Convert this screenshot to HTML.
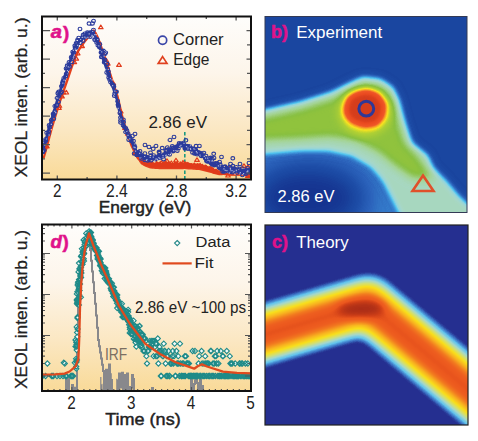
<!DOCTYPE html><html><head><meta charset="utf-8"><style>html,body{margin:0;padding:0;background:#fff;}svg{display:block}</style></head><body>
<svg width="478" height="441" viewBox="0 0 478 441">
<defs>
<linearGradient id="ga" x1="0" y1="0" x2="0" y2="1"><stop offset="0" stop-color="#fefdfb"/><stop offset="0.35" stop-color="#fdf5ea"/><stop offset="0.7" stop-color="#fbe7c2"/><stop offset="1" stop-color="#f9da98"/></linearGradient>
<linearGradient id="gd" x1="0" y1="0" x2="0" y2="1"><stop offset="0" stop-color="#fefdfb"/><stop offset="0.35" stop-color="#fdf5ea"/><stop offset="0.7" stop-color="#fbe7c2"/><stop offset="1" stop-color="#f9da98"/></linearGradient>
<filter id="fb" filterUnits="userSpaceOnUse" x="200" y="0" width="320" height="441" color-interpolation-filters="sRGB"><feComponentTransfer><feFuncR type="table" tableValues="0.086 0.090 0.095 0.099 0.103 0.109 0.115 0.125 0.135 0.146 0.157 0.168 0.178 0.188 0.198 0.208 0.218 0.228 0.238 0.248 0.258 0.268 0.279 0.289 0.299 0.310 0.333 0.366 0.399 0.432 0.465 0.498 0.531 0.564 0.575 0.586 0.596 0.607 0.617 0.628 0.639 0.649 0.659 0.657 0.655 0.653 0.652 0.650 0.648 0.646 0.645 0.641 0.628 0.616 0.604 0.591 0.579 0.567 0.554 0.542 0.538 0.551 0.565 0.579 0.592 0.606 0.620 0.634 0.647 0.661 0.675 0.689 0.715 0.742 0.770 0.798 0.826 0.854 0.881 0.909 0.937 0.965 0.973 0.973 0.973 0.973 0.973 0.973 0.973 0.973 0.973 0.970 0.966 0.963 0.959 0.956 0.952 0.948 0.945 0.941 0.940 0.938 0.937 0.935 0.934 0.932 0.930 0.929 0.927 0.926 0.924 0.923 0.921 0.920 0.918 0.909 0.896 0.883 0.870 0.857 0.844 0.831 0.818 0.805 0.792 0.779 0.766 0.753"/><feFuncG type="table" tableValues="0.204 0.222 0.241 0.260 0.277 0.289 0.302 0.317 0.334 0.351 0.368 0.385 0.408 0.435 0.462 0.489 0.516 0.544 0.571 0.597 0.624 0.651 0.678 0.704 0.731 0.758 0.774 0.782 0.790 0.798 0.807 0.815 0.823 0.831 0.833 0.835 0.837 0.838 0.840 0.842 0.844 0.845 0.847 0.845 0.843 0.842 0.840 0.838 0.836 0.835 0.833 0.830 0.821 0.812 0.803 0.794 0.785 0.777 0.768 0.759 0.755 0.760 0.766 0.771 0.777 0.782 0.788 0.793 0.799 0.804 0.810 0.815 0.822 0.830 0.838 0.846 0.853 0.861 0.869 0.877 0.884 0.892 0.873 0.843 0.813 0.783 0.753 0.723 0.693 0.663 0.633 0.601 0.569 0.538 0.506 0.474 0.442 0.411 0.379 0.347 0.342 0.338 0.335 0.331 0.327 0.324 0.320 0.316 0.313 0.309 0.306 0.302 0.298 0.295 0.291 0.285 0.277 0.269 0.260 0.252 0.244 0.236 0.228 0.220 0.212 0.204 0.196 0.188"/><feFuncB type="table" tableValues="0.565 0.581 0.598 0.614 0.630 0.642 0.655 0.669 0.684 0.700 0.715 0.731 0.747 0.764 0.782 0.799 0.816 0.834 0.850 0.862 0.874 0.887 0.899 0.912 0.924 0.936 0.936 0.928 0.920 0.912 0.903 0.895 0.887 0.879 0.868 0.857 0.847 0.836 0.826 0.815 0.805 0.794 0.782 0.759 0.736 0.713 0.690 0.668 0.645 0.622 0.599 0.573 0.536 0.499 0.462 0.425 0.388 0.351 0.314 0.277 0.250 0.246 0.241 0.237 0.233 0.229 0.225 0.221 0.217 0.213 0.209 0.204 0.197 0.189 0.182 0.174 0.166 0.159 0.151 0.143 0.135 0.128 0.128 0.132 0.135 0.139 0.142 0.146 0.149 0.153 0.156 0.157 0.157 0.157 0.157 0.157 0.157 0.157 0.157 0.157 0.155 0.153 0.151 0.149 0.147 0.145 0.143 0.141 0.138 0.136 0.134 0.132 0.130 0.128 0.126 0.124 0.121 0.119 0.116 0.114 0.111 0.109 0.106 0.104 0.102 0.099 0.097 0.094"/></feComponentTransfer></filter>
<filter id="fc" filterUnits="userSpaceOnUse" x="200" y="0" width="320" height="441" color-interpolation-filters="sRGB"><feComponentTransfer><feFuncR type="table" tableValues="0.149 0.149 0.149 0.161 0.188 0.215 0.243 0.272 0.300 0.329 0.358 0.387 0.418 0.449 0.481 0.512 0.544 0.575 0.606 0.638 0.657 0.673 0.689 0.705 0.722 0.738 0.754 0.771 0.787 0.803 0.819 0.834 0.844 0.854 0.864 0.874 0.884 0.894 0.903 0.913 0.923 0.933 0.943 0.953 0.963 0.973 0.973 0.973 0.973 0.973 0.973 0.973 0.973 0.973 0.973 0.973 0.973 0.973 0.973 0.973 0.973 0.973 0.973 0.973 0.973 0.973 0.972 0.971 0.969 0.968 0.967 0.966 0.964 0.963 0.962 0.960 0.959 0.958 0.957 0.955 0.954 0.953 0.952 0.950 0.949 0.948 0.947 0.945 0.944 0.943 0.942 0.941 0.939 0.938 0.937 0.936 0.935 0.933 0.932 0.931 0.931 0.930 0.929 0.928 0.927 0.926 0.918 0.906 0.894 0.881 0.869 0.856 0.844 0.832 0.819 0.805 0.790 0.776 0.761 0.746 0.731 0.716 0.702 0.687 0.672 0.657 0.642 0.627"/><feFuncG type="table" tableValues="0.188 0.188 0.188 0.228 0.314 0.400 0.472 0.532 0.592 0.653 0.713 0.769 0.779 0.788 0.798 0.807 0.817 0.826 0.836 0.845 0.849 0.852 0.855 0.857 0.860 0.863 0.866 0.868 0.871 0.874 0.876 0.878 0.878 0.878 0.878 0.878 0.878 0.878 0.878 0.878 0.878 0.878 0.878 0.878 0.878 0.878 0.869 0.860 0.851 0.841 0.832 0.823 0.814 0.805 0.796 0.787 0.777 0.768 0.759 0.750 0.741 0.732 0.723 0.713 0.704 0.695 0.685 0.673 0.662 0.650 0.639 0.627 0.616 0.604 0.593 0.581 0.570 0.558 0.547 0.535 0.524 0.512 0.501 0.489 0.478 0.470 0.462 0.455 0.447 0.439 0.431 0.423 0.416 0.408 0.400 0.392 0.384 0.377 0.373 0.369 0.365 0.362 0.358 0.354 0.350 0.347 0.339 0.328 0.318 0.307 0.297 0.286 0.275 0.265 0.254 0.246 0.238 0.231 0.224 0.216 0.209 0.201 0.194 0.187 0.179 0.172 0.164 0.157"/><feFuncB type="table" tableValues="0.565 0.565 0.565 0.597 0.667 0.736 0.785 0.815 0.845 0.875 0.906 0.932 0.916 0.900 0.884 0.867 0.851 0.835 0.819 0.803 0.774 0.743 0.712 0.681 0.649 0.618 0.587 0.556 0.525 0.493 0.462 0.433 0.410 0.387 0.364 0.340 0.317 0.294 0.271 0.248 0.225 0.201 0.178 0.155 0.132 0.110 0.111 0.111 0.112 0.113 0.114 0.114 0.115 0.116 0.117 0.117 0.118 0.119 0.120 0.121 0.121 0.122 0.123 0.124 0.124 0.125 0.125 0.125 0.125 0.125 0.125 0.125 0.125 0.125 0.125 0.125 0.125 0.125 0.125 0.125 0.125 0.125 0.125 0.125 0.125 0.125 0.125 0.125 0.125 0.125 0.125 0.125 0.125 0.125 0.125 0.125 0.125 0.125 0.125 0.124 0.123 0.122 0.121 0.120 0.119 0.118 0.116 0.113 0.111 0.108 0.105 0.103 0.100 0.098 0.095 0.094 0.094 0.094 0.094 0.094 0.094 0.094 0.094 0.094 0.094 0.094 0.094 0.094"/></feComponentTransfer></filter>
<filter id="bl2" x="-50%" y="-50%" width="200%" height="200%" color-interpolation-filters="sRGB"><feGaussianBlur stdDeviation="2.4"/></filter>
<filter id="bl3" x="-50%" y="-50%" width="200%" height="200%" color-interpolation-filters="sRGB"><feGaussianBlur stdDeviation="3"/></filter>
<filter id="bl5" x="-50%" y="-50%" width="200%" height="200%" color-interpolation-filters="sRGB"><feGaussianBlur stdDeviation="5"/></filter>
<filter id="bl8" x="-50%" y="-50%" width="200%" height="200%" color-interpolation-filters="sRGB"><feGaussianBlur stdDeviation="8"/></filter>
<filter id="bl10" x="-50%" y="-50%" width="200%" height="200%" color-interpolation-filters="sRGB"><feGaussianBlur stdDeviation="10"/></filter>
<filter id="bl7" x="-50%" y="-50%" width="200%" height="200%" color-interpolation-filters="sRGB"><feGaussianBlur stdDeviation="8.5"/></filter>
<filter id="bl12" x="-50%" y="-50%" width="200%" height="200%" color-interpolation-filters="sRGB"><feGaussianBlur stdDeviation="14"/></filter>
<clipPath id="cb"><rect x="265" y="16.5" width="202" height="196"/></clipPath>
<clipPath id="cc"><rect x="265" y="225" width="203" height="200"/></clipPath>
<clipPath id="ca"><rect x="42" y="16.5" width="209" height="163"/></clipPath>
<clipPath id="cd"><rect x="42" y="224.5" width="209" height="166.5"/></clipPath>
</defs>
<rect x="42" y="16.5" width="209" height="163.0" fill="url(#ga)"/>
<g clip-path="url(#ca)">
<line x1="184.8" y1="132" x2="184.8" y2="179" stroke="#1a9a80" stroke-width="1.6" stroke-dasharray="3.5 2"/>
<path d="M43.5 158.2 L45.5 151.4 L47.5 143.9 L49.5 136.4 L51.5 128.9 L53.5 122.1 L55.5 115.6 L57.5 109.1 L59.5 102.6 L61.5 96.8 L63.5 91.1 L65.5 85.4 L67.5 79.5 L69.5 73.5 L71.5 67.5 L73.5 62.2 L75.5 57.2 L77.5 52.2 L79.5 48.9 L81.5 46 L83.5 43.1 L85.5 40.4 L87.5 37.9 L89.5 35.5 L91.5 33.1 L93.5 30.6 L95.5 33 L97.5 37 L99.5 42.2 L101.5 47.8 L103.5 53.5 L105.5 59.5 L107.5 65.5 L109.5 71.8 L111.5 78.2 L113.5 84.5 L115.5 90.5 L117.5 96.5 L119.5 104.8 L121.5 113.8 L123.5 121 L125.5 127.7 L127.5 133.7 L129.5 139.6 L131.5 145.4 L133.5 149.6 L135.5 153.8 L137.5 157.5 L139.5 159.5 L141.5 161.4 L143.5 162.9 L145.5 163.7 L147.5 164.5 L149.5 165.3 L151.5 165.6 L153.5 165.7 L155.5 165.9 L157.5 166 L159.5 166.2 L161.5 166.2 L163.5 166.2 L165.5 166.2 L167.5 166.1 L169.5 166.1 L171.5 166.1 L173.5 166.1 L175.5 166.1 L177.5 166.1 L179.5 166 L181.5 166 L183.5 166 L185.5 166 L187.5 166.2 L189.5 166.3 L191.5 166.4 L193.5 166.6 L195.5 166.7 L197.5 166.8 L199.5 167 L201.5 167.4 L203.5 168.1 L205.5 168.7 L207.5 169.2 L209.5 169.8 L211.5 170.6 L213.5 171.4 L215.5 172.1 L217.5 172.9 L219.5 173.5 L221.5 173.7 L223.5 173.9 L225.5 174.1 L227.5 174.3 L229.5 174.5 L231.5 174.5 L233.5 174.5 L235.5 174.5 L237.5 174.5 L239.5 174.5 L241.5 174.5 L243.5 174.5 L245.5 174.5 L247.5 174.5 L249.5 174.5 L251.5 174.5" fill="none" stroke="#e4401c" stroke-width="2.4" stroke-linejoin="round"/>
<path d="M132 145.5 L133 147.4 L134 149.4 L135 151.3 L136 153.3 L137 155.2 L138 156.1 L139 156.9 L140 157.7 L141 158.5 L142 159.4 L143 160 L144 160.2 L145 160.5 L146 160.9 L147 161.3 L148 161.7 L149 162.1 L150 162.5 L151 162.5 L152 162.6 L153 162.7 L154 162.7 L155 162.8 L156 162.9 L157 162.9 L158 163 L159 163.1 L160 163.1 L161 163.1 L162 163.1 L163 163.1 L164 163.1 L165 163.1 L166 163.1 L167 163.1 L168 163.1 L169 163 L170 163 L171 163 L172 163 L173 163 L174 163 L175 163 L176 163 L177 162.9 L178 162.9 L179 162.9 L180 162.9 L181 162.9 L182 162.9 L183 162.9 L184 162.9 L185 162.9 L186 162.9 L187 163 L188 163 L189 163.1 L190 163.2 L191 163.2 L192 163.3 L193 163.4 L194 163.4 L195 163.5 L196 163.5 L197 163.6 L198 163.7 L199 163.7 L200 163.8 L201 164.2 L202 164.5 L203 164.9 L204 165.2 L205 165.6 L206 165.9 L207 166.3 L208 166.6 L209 167 L210 167.3 L211 167.8 L212 168.2 L213 168.7 L214 169.1 L215 169.5 L216 170.1 L217 170.6 L218 171.1 L219 171.7 L220 171.9 L221 172.1 L222 172.4 L223 172.6 L224 172.8 L225 173 L226 173.1 L227 173.2 L228 173.3 L229 173.4 L230 173.5 L231 173.5 L232 173.6 L233 173.6 L234 173.6 L235 173.6 L236 173.6 L237 173.6 L238 173.6 L239 173.6 L240 173.6 L241 173.6 L242 173.6 L243 173.6 L244 173.6 L245 173.6 L246 173.7 L247 173.7 L248 173.7 L249 173.7 L250 173.7 L251 173.7 L252 173.7 L252 175.3 L251 175.3 L250 175.3 L249 175.3 L248 175.3 L247 175.3 L246 175.3 L245 175.4 L244 175.4 L243 175.4 L242 175.4 L241 175.4 L240 175.4 L239 175.4 L238 175.4 L237 175.4 L236 175.4 L235 175.4 L234 175.4 L233 175.4 L232 175.4 L231 175.5 L230 175.5 L229 175.4 L228 175.3 L227 175.2 L226 175.1 L225 175 L224 175.1 L223 175.1 L222 175.2 L221 175.2 L220 175.3 L219 175.3 L218 175.1 L217 174.8 L216 174.6 L215 174.3 L214 174 L213 173.7 L212 173.3 L211 173 L210 172.7 L209 172.4 L208 172.2 L207 171.9 L206 171.7 L205 171.4 L204 171.2 L203 170.9 L202 170.7 L201 170.4 L200 170.2 L199 170.1 L198 170.1 L197 170 L196 169.9 L195 169.8 L194 169.8 L193 169.7 L192 169.6 L191 169.6 L190 169.5 L189 169.4 L188 169.4 L187 169.3 L186 169.2 L185 169.1 L184 169.1 L183 169.2 L182 169.2 L181 169.2 L180 169.2 L179 169.2 L178 169.2 L177 169.2 L176 169.2 L175 169.2 L174 169.2 L173 169.2 L172 169.2 L171 169.2 L170 169.2 L169 169.2 L168 169.2 L167 169.2 L166 169.2 L165 169.2 L164 169.2 L163 169.2 L162 169.2 L161 169.3 L160 169.3 L159 169.2 L158 169.1 L157 169 L156 169 L155 168.9 L154 168.8 L153 168.7 L152 168.7 L151 168.6 L150 168.5 L149 168.1 L148 167.7 L147 167.3 L146 166.9 L145 166.5 L144 165.9 L143 165.4 L142 164.4 L141 163.3 L140 162.2 L139 161 L138 159.9 L137 158.8 L136 156.5 L135 154.3 L134 152 L133 149.7 L132 147.5 Z" fill="#e4401c"/>
<path d="M46.9 144.2l-2.3 3.6h4.6zM58.9 105.8l-2.3 3.6h4.6zM59.4 103.6l-2.3 3.6h4.6zM62 94.3l-2.3 3.6h4.6zM63.8 90.5l-2.3 3.6h4.6zM74.3 60l-2.3 3.6h4.6zM76.3 56.5l-2.3 3.6h4.6zM77.7 51.2l-2.3 3.6h4.6zM82.1 44l-2.3 3.6h4.6zM99.3 40.8l-2.3 3.6h4.6zM106.3 58.4l-2.3 3.6h4.6zM107.8 61.5l-2.3 3.6h4.6zM113.3 81.3l-2.3 3.6h4.6zM120.7 109.3l-2.3 3.6h4.6zM125 125.9l-2.3 3.6h4.6zM127.8 131.5l-2.3 3.6h4.6zM135 151.1l-2.3 3.6h4.6zM142.1 158.2l-2.3 3.6h4.6zM143.3 159.9l-2.3 3.6h4.6zM143.7 160.2l-2.3 3.6h4.6zM144.1 159.2l-2.3 3.6h4.6zM145 160.2l-2.3 3.6h4.6zM147.2 161.7l-2.3 3.6h4.6zM148.4 160l-2.3 3.6h4.6zM148.7 161.9l-2.3 3.6h4.6zM150.3 161.9l-2.3 3.6h4.6zM151.3 162.2l-2.3 3.6h4.6zM151.5 162.1l-2.3 3.6h4.6zM152.3 161.4l-2.3 3.6h4.6zM152.2 162.6l-2.3 3.6h4.6zM153.3 163l-2.3 3.6h4.6zM154.3 163.3l-2.3 3.6h4.6zM156.4 161.7l-2.3 3.6h4.6zM157.1 163.4l-2.3 3.6h4.6zM156.8 161.6l-2.3 3.6h4.6zM157.8 162.7l-2.3 3.6h4.6zM158.8 162.6l-2.3 3.6h4.6zM159.8 163.3l-2.3 3.6h4.6zM160 161.9l-2.3 3.6h4.6zM161.3 160.8l-2.3 3.6h4.6zM162.2 162.9l-2.3 3.6h4.6zM162.2 163l-2.3 3.6h4.6zM163.1 161.7l-2.3 3.6h4.6zM164.2 163.3l-2.3 3.6h4.6zM164.5 161.7l-2.3 3.6h4.6zM165.9 161l-2.3 3.6h4.6zM166 161.6l-2.3 3.6h4.6zM167.8 163.6l-2.3 3.6h4.6zM168.2 163.1l-2.3 3.6h4.6zM169.6 163.7l-2.3 3.6h4.6zM169.7 162.1l-2.3 3.6h4.6zM169.9 162l-2.3 3.6h4.6zM170.4 163.4l-2.3 3.6h4.6zM170.5 163.6l-2.3 3.6h4.6zM171.4 161l-2.3 3.6h4.6zM172.8 163.5l-2.3 3.6h4.6zM173.2 163.6l-2.3 3.6h4.6zM175.2 161.8l-2.3 3.6h4.6zM176.8 161.8l-2.3 3.6h4.6zM177 162.8l-2.3 3.6h4.6zM177.6 163.1l-2.3 3.6h4.6zM177.6 163.6l-2.3 3.6h4.6zM179 163.5l-2.3 3.6h4.6zM180.1 163.1l-2.3 3.6h4.6zM180.3 161.9l-2.3 3.6h4.6zM180.4 163.4l-2.3 3.6h4.6zM180.9 163.5l-2.3 3.6h4.6zM181.9 163.3l-2.3 3.6h4.6zM182.1 163.5l-2.3 3.6h4.6zM182.9 162.8l-2.3 3.6h4.6zM183 160.5l-2.3 3.6h4.6zM184.4 163l-2.3 3.6h4.6zM185.2 161.9l-2.3 3.6h4.6zM186.6 162.7l-2.3 3.6h4.6zM187.2 162.6l-2.3 3.6h4.6zM187.1 162.3l-2.3 3.6h4.6zM188.4 163.5l-2.3 3.6h4.6zM188.2 162.7l-2.3 3.6h4.6zM189.5 163.8l-2.3 3.6h4.6zM189.2 163.3l-2.3 3.6h4.6zM190.4 163.9l-2.3 3.6h4.6zM191.2 163.6l-2.3 3.6h4.6zM194.3 163l-2.3 3.6h4.6zM197 164.2l-2.3 3.6h4.6zM197.1 164.2l-2.3 3.6h4.6zM197.9 163.6l-2.3 3.6h4.6zM200.1 163.2l-2.3 3.6h4.6zM202.1 164.5l-2.3 3.6h4.6zM202.5 164.4l-2.3 3.6h4.6zM202.7 164.7l-2.3 3.6h4.6zM205.2 165l-2.3 3.6h4.6zM206.4 165.5l-2.3 3.6h4.6zM208 166.6l-2.3 3.6h4.6zM209.9 166.2l-2.3 3.6h4.6zM210.8 166.9l-2.3 3.6h4.6zM210.8 167.5l-2.3 3.6h4.6zM211.8 166.9l-2.3 3.6h4.6zM212.2 167.9l-2.3 3.6h4.6zM213.2 168l-2.3 3.6h4.6zM215.5 169.3l-2.3 3.6h4.6zM216.4 169.3l-2.3 3.6h4.6zM217.4 169.9l-2.3 3.6h4.6zM219.3 168.7l-2.3 3.6h4.6zM220.5 169.9l-2.3 3.6h4.6zM222 170.6l-2.3 3.6h4.6zM223.6 170.7l-2.3 3.6h4.6zM228 173.4l-2.3 3.6h4.6zM247.8 173.7l-2.3 3.6h4.6zM248.8 172.5l-2.3 3.6h4.6zM100.8 25.1l-2.3 3.6h4.6zM119 62.8l-2.3 3.6h4.6zM66.3 90.4l-2.3 3.6h4.6zM227 167.8l-2.3 3.6h4.6zM244 163.8l-2.3 3.6h4.6zM176 158.3l-2.3 3.6h4.6zM197 157.8l-2.3 3.6h4.6zM167 158.8l-2.3 3.6h4.6zM230 165.8l-2.3 3.6h4.6zM248 164.8l-2.3 3.6h4.6z" fill="none" stroke="#e03a1a" stroke-width="1.2" stroke-linejoin="round"/>
<path d="M40 158 L42 152.7 L44 146.4 L46 139.3 L48 132.1 L50 125 L52 118.2 L54 111.5 L56 104.8 L58 98 L60 91.6 L62 85.1 L64 78.9 L66 73.3 L68 67.8 L70 61.7 L72 55.2 L74 49.4 L76 46.2 L78 43.1 L80 40 L82 38.6 L84 37.1 L86 35.7 L88 34.3 L90 32.9 L92 31.4 L94 33.9 L96 38 L98 43.4 L100 48.8 L102 54.7 L104 60.8 L106 67 L108 72.8 L110 78.6 L112 84.4 L114 90.2 L116 96 L118 104.8 L120 113.6 L122 120.6 L124 125.8 L126 130.8 L128 134.7 L130 138.6 L132 142.6 L134 146.6 L136 150.5 L138 153.1 L140 154.3 L142 155.5 L144 156.7 L146 157.5 L148 157.5 L150 157.5 L152 157.5 L154 157.5 L156 157.5 L158 157 L160 156.3 L162 155.6 L164 154.9 L166 154.2 L168 153.5 L170 152.2 L172 150.9 L174 149.6 L176 148.3 L178 147.1 L180 146 L182 144.9 L184 144.3 L186 145.6 L188 147 L190 148.3 L192 149.6 L194 150.9 L196 152.1 L198 153.3 L200 154.6 L202 155.8 L204 157.1 L206 158.4 L208 159.7 L210 161 L212 162.2 L214 163.3 L216 164.5 L218 165.5 L220 166.4 L222 167.4 L224 168.3 L226 169 L228 169.4 L230 169.9 L232 170.3 L234 170.7 L236 171.1 L238 171.6 L240 172 L242 171.9 L244 171.8 L246 171.8 L248 171.7 L250 171.6 L252 171.5" fill="none" stroke="#2c3c9c" stroke-width="2.8" stroke-linejoin="round"/>
<path d="M41.1 151a1.9 1.7 0 1 0 3.8 0a1.9 1.7 0 1 0-3.8 0zM41 152a1.9 1.7 0 1 0 3.8 0a1.9 1.7 0 1 0-3.8 0zM42.2 150.2a1.9 1.7 0 1 0 3.8 0a1.9 1.7 0 1 0-3.8 0zM40.5 146.7a1.9 1.7 0 1 0 3.8 0a1.9 1.7 0 1 0-3.8 0zM42.6 142.4a1.9 1.7 0 1 0 3.8 0a1.9 1.7 0 1 0-3.8 0zM43.7 139.3a1.9 1.7 0 1 0 3.8 0a1.9 1.7 0 1 0-3.8 0zM44 140.7a1.9 1.7 0 1 0 3.8 0a1.9 1.7 0 1 0-3.8 0zM46.4 134a1.9 1.7 0 1 0 3.8 0a1.9 1.7 0 1 0-3.8 0zM44.8 132.8a1.9 1.7 0 1 0 3.8 0a1.9 1.7 0 1 0-3.8 0zM46.7 131.5a1.9 1.7 0 1 0 3.8 0a1.9 1.7 0 1 0-3.8 0zM47.7 127.3a1.9 1.7 0 1 0 3.8 0a1.9 1.7 0 1 0-3.8 0zM47.2 125.2a1.9 1.7 0 1 0 3.8 0a1.9 1.7 0 1 0-3.8 0zM49 124a1.9 1.7 0 1 0 3.8 0a1.9 1.7 0 1 0-3.8 0zM49.4 120.1a1.9 1.7 0 1 0 3.8 0a1.9 1.7 0 1 0-3.8 0zM51.9 118.8a1.9 1.7 0 1 0 3.8 0a1.9 1.7 0 1 0-3.8 0zM51.6 115.3a1.9 1.7 0 1 0 3.8 0a1.9 1.7 0 1 0-3.8 0zM51.2 114.1a1.9 1.7 0 1 0 3.8 0a1.9 1.7 0 1 0-3.8 0zM52.6 113.1a1.9 1.7 0 1 0 3.8 0a1.9 1.7 0 1 0-3.8 0zM52.9 111.8a1.9 1.7 0 1 0 3.8 0a1.9 1.7 0 1 0-3.8 0zM53 106a1.9 1.7 0 1 0 3.8 0a1.9 1.7 0 1 0-3.8 0zM54.5 105.7a1.9 1.7 0 1 0 3.8 0a1.9 1.7 0 1 0-3.8 0zM55.1 104.9a1.9 1.7 0 1 0 3.8 0a1.9 1.7 0 1 0-3.8 0zM56.6 101.9a1.9 1.7 0 1 0 3.8 0a1.9 1.7 0 1 0-3.8 0zM55.2 98a1.9 1.7 0 1 0 3.8 0a1.9 1.7 0 1 0-3.8 0zM55.9 93.3a1.9 1.7 0 1 0 3.8 0a1.9 1.7 0 1 0-3.8 0zM57 96a1.9 1.7 0 1 0 3.8 0a1.9 1.7 0 1 0-3.8 0zM58.7 93.1a1.9 1.7 0 1 0 3.8 0a1.9 1.7 0 1 0-3.8 0zM59.7 91.8a1.9 1.7 0 1 0 3.8 0a1.9 1.7 0 1 0-3.8 0zM59.6 86.2a1.9 1.7 0 1 0 3.8 0a1.9 1.7 0 1 0-3.8 0zM60.5 84.3a1.9 1.7 0 1 0 3.8 0a1.9 1.7 0 1 0-3.8 0zM61.1 81a1.9 1.7 0 1 0 3.8 0a1.9 1.7 0 1 0-3.8 0zM60.6 82.6a1.9 1.7 0 1 0 3.8 0a1.9 1.7 0 1 0-3.8 0zM61.9 78.2a1.9 1.7 0 1 0 3.8 0a1.9 1.7 0 1 0-3.8 0zM63.8 76.2a1.9 1.7 0 1 0 3.8 0a1.9 1.7 0 1 0-3.8 0zM64.4 73.8a1.9 1.7 0 1 0 3.8 0a1.9 1.7 0 1 0-3.8 0zM65.4 69.1a1.9 1.7 0 1 0 3.8 0a1.9 1.7 0 1 0-3.8 0zM65.7 68.9a1.9 1.7 0 1 0 3.8 0a1.9 1.7 0 1 0-3.8 0zM64.2 68.4a1.9 1.7 0 1 0 3.8 0a1.9 1.7 0 1 0-3.8 0zM66.9 64.8a1.9 1.7 0 1 0 3.8 0a1.9 1.7 0 1 0-3.8 0zM67.6 66.8a1.9 1.7 0 1 0 3.8 0a1.9 1.7 0 1 0-3.8 0zM67.1 62.2a1.9 1.7 0 1 0 3.8 0a1.9 1.7 0 1 0-3.8 0zM70.1 62a1.9 1.7 0 1 0 3.8 0a1.9 1.7 0 1 0-3.8 0zM69.3 57.2a1.9 1.7 0 1 0 3.8 0a1.9 1.7 0 1 0-3.8 0zM70.8 52a1.9 1.7 0 1 0 3.8 0a1.9 1.7 0 1 0-3.8 0zM71.4 57.5a1.9 1.7 0 1 0 3.8 0a1.9 1.7 0 1 0-3.8 0zM72 52.6a1.9 1.7 0 1 0 3.8 0a1.9 1.7 0 1 0-3.8 0zM73.2 47.3a1.9 1.7 0 1 0 3.8 0a1.9 1.7 0 1 0-3.8 0zM72.9 45.7a1.9 1.7 0 1 0 3.8 0a1.9 1.7 0 1 0-3.8 0zM74.3 47.4a1.9 1.7 0 1 0 3.8 0a1.9 1.7 0 1 0-3.8 0zM74.7 46.5a1.9 1.7 0 1 0 3.8 0a1.9 1.7 0 1 0-3.8 0zM74.2 43.3a1.9 1.7 0 1 0 3.8 0a1.9 1.7 0 1 0-3.8 0zM75.3 43.7a1.9 1.7 0 1 0 3.8 0a1.9 1.7 0 1 0-3.8 0zM75.6 40.1a1.9 1.7 0 1 0 3.8 0a1.9 1.7 0 1 0-3.8 0zM75.9 40.5a1.9 1.7 0 1 0 3.8 0a1.9 1.7 0 1 0-3.8 0zM76.8 37.9a1.9 1.7 0 1 0 3.8 0a1.9 1.7 0 1 0-3.8 0zM78.9 40a1.9 1.7 0 1 0 3.8 0a1.9 1.7 0 1 0-3.8 0zM78.3 42.8a1.9 1.7 0 1 0 3.8 0a1.9 1.7 0 1 0-3.8 0zM80.6 37.4a1.9 1.7 0 1 0 3.8 0a1.9 1.7 0 1 0-3.8 0zM80.5 37.8a1.9 1.7 0 1 0 3.8 0a1.9 1.7 0 1 0-3.8 0zM81.2 40.7a1.9 1.7 0 1 0 3.8 0a1.9 1.7 0 1 0-3.8 0zM81.2 35.1a1.9 1.7 0 1 0 3.8 0a1.9 1.7 0 1 0-3.8 0zM83 37.2a1.9 1.7 0 1 0 3.8 0a1.9 1.7 0 1 0-3.8 0zM82.8 33.7a1.9 1.7 0 1 0 3.8 0a1.9 1.7 0 1 0-3.8 0zM84.6 36.6a1.9 1.7 0 1 0 3.8 0a1.9 1.7 0 1 0-3.8 0zM85.3 34a1.9 1.7 0 1 0 3.8 0a1.9 1.7 0 1 0-3.8 0zM84.4 35.7a1.9 1.7 0 1 0 3.8 0a1.9 1.7 0 1 0-3.8 0zM86.6 33.6a1.9 1.7 0 1 0 3.8 0a1.9 1.7 0 1 0-3.8 0zM85.5 32.6a1.9 1.7 0 1 0 3.8 0a1.9 1.7 0 1 0-3.8 0zM88.2 32.6a1.9 1.7 0 1 0 3.8 0a1.9 1.7 0 1 0-3.8 0zM86.9 35.5a1.9 1.7 0 1 0 3.8 0a1.9 1.7 0 1 0-3.8 0zM88.3 36.8a1.9 1.7 0 1 0 3.8 0a1.9 1.7 0 1 0-3.8 0zM90.7 33.4a1.9 1.7 0 1 0 3.8 0a1.9 1.7 0 1 0-3.8 0zM90.6 32.9a1.9 1.7 0 1 0 3.8 0a1.9 1.7 0 1 0-3.8 0zM91.6 29.9a1.9 1.7 0 1 0 3.8 0a1.9 1.7 0 1 0-3.8 0zM90.1 32.2a1.9 1.7 0 1 0 3.8 0a1.9 1.7 0 1 0-3.8 0zM93.1 40a1.9 1.7 0 1 0 3.8 0a1.9 1.7 0 1 0-3.8 0zM92.7 39.6a1.9 1.7 0 1 0 3.8 0a1.9 1.7 0 1 0-3.8 0zM95.1 40.4a1.9 1.7 0 1 0 3.8 0a1.9 1.7 0 1 0-3.8 0zM94.7 42.4a1.9 1.7 0 1 0 3.8 0a1.9 1.7 0 1 0-3.8 0zM95.3 39.4a1.9 1.7 0 1 0 3.8 0a1.9 1.7 0 1 0-3.8 0zM94.9 39.5a1.9 1.7 0 1 0 3.8 0a1.9 1.7 0 1 0-3.8 0zM96.1 45.5a1.9 1.7 0 1 0 3.8 0a1.9 1.7 0 1 0-3.8 0zM97.4 46.9a1.9 1.7 0 1 0 3.8 0a1.9 1.7 0 1 0-3.8 0zM99.1 52.6a1.9 1.7 0 1 0 3.8 0a1.9 1.7 0 1 0-3.8 0zM99.7 50.9a1.9 1.7 0 1 0 3.8 0a1.9 1.7 0 1 0-3.8 0zM99.4 51.8a1.9 1.7 0 1 0 3.8 0a1.9 1.7 0 1 0-3.8 0zM99.4 56.9a1.9 1.7 0 1 0 3.8 0a1.9 1.7 0 1 0-3.8 0zM100.1 57a1.9 1.7 0 1 0 3.8 0a1.9 1.7 0 1 0-3.8 0zM102.8 59.8a1.9 1.7 0 1 0 3.8 0a1.9 1.7 0 1 0-3.8 0zM102.6 60.4a1.9 1.7 0 1 0 3.8 0a1.9 1.7 0 1 0-3.8 0zM102.3 62.3a1.9 1.7 0 1 0 3.8 0a1.9 1.7 0 1 0-3.8 0zM104.8 63.9a1.9 1.7 0 1 0 3.8 0a1.9 1.7 0 1 0-3.8 0zM104.8 72.4a1.9 1.7 0 1 0 3.8 0a1.9 1.7 0 1 0-3.8 0zM105.7 68.9a1.9 1.7 0 1 0 3.8 0a1.9 1.7 0 1 0-3.8 0zM106.5 71.6a1.9 1.7 0 1 0 3.8 0a1.9 1.7 0 1 0-3.8 0zM106.8 74.8a1.9 1.7 0 1 0 3.8 0a1.9 1.7 0 1 0-3.8 0zM106.9 77.4a1.9 1.7 0 1 0 3.8 0a1.9 1.7 0 1 0-3.8 0zM106.8 77.6a1.9 1.7 0 1 0 3.8 0a1.9 1.7 0 1 0-3.8 0zM107.7 79.5a1.9 1.7 0 1 0 3.8 0a1.9 1.7 0 1 0-3.8 0zM108.7 82.1a1.9 1.7 0 1 0 3.8 0a1.9 1.7 0 1 0-3.8 0zM110.4 84.6a1.9 1.7 0 1 0 3.8 0a1.9 1.7 0 1 0-3.8 0zM110.2 83.9a1.9 1.7 0 1 0 3.8 0a1.9 1.7 0 1 0-3.8 0zM112 86.7a1.9 1.7 0 1 0 3.8 0a1.9 1.7 0 1 0-3.8 0zM112.8 93.5a1.9 1.7 0 1 0 3.8 0a1.9 1.7 0 1 0-3.8 0zM113.9 91.9a1.9 1.7 0 1 0 3.8 0a1.9 1.7 0 1 0-3.8 0zM114.6 91.8a1.9 1.7 0 1 0 3.8 0a1.9 1.7 0 1 0-3.8 0zM112.4 95.7a1.9 1.7 0 1 0 3.8 0a1.9 1.7 0 1 0-3.8 0zM116.1 104.7a1.9 1.7 0 1 0 3.8 0a1.9 1.7 0 1 0-3.8 0zM115.8 101.2a1.9 1.7 0 1 0 3.8 0a1.9 1.7 0 1 0-3.8 0zM116.5 105.7a1.9 1.7 0 1 0 3.8 0a1.9 1.7 0 1 0-3.8 0zM116.6 106.5a1.9 1.7 0 1 0 3.8 0a1.9 1.7 0 1 0-3.8 0zM118 113.1a1.9 1.7 0 1 0 3.8 0a1.9 1.7 0 1 0-3.8 0zM118.6 117.5a1.9 1.7 0 1 0 3.8 0a1.9 1.7 0 1 0-3.8 0zM118.7 122.5a1.9 1.7 0 1 0 3.8 0a1.9 1.7 0 1 0-3.8 0zM118.6 120.6a1.9 1.7 0 1 0 3.8 0a1.9 1.7 0 1 0-3.8 0zM121.5 119.7a1.9 1.7 0 1 0 3.8 0a1.9 1.7 0 1 0-3.8 0zM121.7 122a1.9 1.7 0 1 0 3.8 0a1.9 1.7 0 1 0-3.8 0zM121.3 125.5a1.9 1.7 0 1 0 3.8 0a1.9 1.7 0 1 0-3.8 0zM122.3 126.8a1.9 1.7 0 1 0 3.8 0a1.9 1.7 0 1 0-3.8 0zM123.9 128.3a1.9 1.7 0 1 0 3.8 0a1.9 1.7 0 1 0-3.8 0zM123.7 132a1.9 1.7 0 1 0 3.8 0a1.9 1.7 0 1 0-3.8 0zM125 130.5a1.9 1.7 0 1 0 3.8 0a1.9 1.7 0 1 0-3.8 0zM126.2 133.4a1.9 1.7 0 1 0 3.8 0a1.9 1.7 0 1 0-3.8 0zM126.8 139.7a1.9 1.7 0 1 0 3.8 0a1.9 1.7 0 1 0-3.8 0zM126.8 136.2a1.9 1.7 0 1 0 3.8 0a1.9 1.7 0 1 0-3.8 0zM127 136.1a1.9 1.7 0 1 0 3.8 0a1.9 1.7 0 1 0-3.8 0zM128 137.2a1.9 1.7 0 1 0 3.8 0a1.9 1.7 0 1 0-3.8 0zM129.5 139.6a1.9 1.7 0 1 0 3.8 0a1.9 1.7 0 1 0-3.8 0zM129.6 141.1a1.9 1.7 0 1 0 3.8 0a1.9 1.7 0 1 0-3.8 0zM131.6 141a1.9 1.7 0 1 0 3.8 0a1.9 1.7 0 1 0-3.8 0zM132.4 145.5a1.9 1.7 0 1 0 3.8 0a1.9 1.7 0 1 0-3.8 0zM132.8 147.4a1.9 1.7 0 1 0 3.8 0a1.9 1.7 0 1 0-3.8 0zM133 146.9a1.9 1.7 0 1 0 3.8 0a1.9 1.7 0 1 0-3.8 0zM132.3 153.6a1.9 1.7 0 1 0 3.8 0a1.9 1.7 0 1 0-3.8 0zM135.1 152.2a1.9 1.7 0 1 0 3.8 0a1.9 1.7 0 1 0-3.8 0zM135.1 152.3a1.9 1.7 0 1 0 3.8 0a1.9 1.7 0 1 0-3.8 0zM134.8 154.9a1.9 1.7 0 1 0 3.8 0a1.9 1.7 0 1 0-3.8 0zM135.4 153.8a1.9 1.7 0 1 0 3.8 0a1.9 1.7 0 1 0-3.8 0zM136.3 152.2a1.9 1.7 0 1 0 3.8 0a1.9 1.7 0 1 0-3.8 0zM137.5 153.6a1.9 1.7 0 1 0 3.8 0a1.9 1.7 0 1 0-3.8 0zM137.1 155.1a1.9 1.7 0 1 0 3.8 0a1.9 1.7 0 1 0-3.8 0zM139.6 158.4a1.9 1.7 0 1 0 3.8 0a1.9 1.7 0 1 0-3.8 0zM139.2 156.5a1.9 1.7 0 1 0 3.8 0a1.9 1.7 0 1 0-3.8 0zM140.6 155.4a1.9 1.7 0 1 0 3.8 0a1.9 1.7 0 1 0-3.8 0zM139.7 156.7a1.9 1.7 0 1 0 3.8 0a1.9 1.7 0 1 0-3.8 0zM143.7 157.7a1.9 1.7 0 1 0 3.8 0a1.9 1.7 0 1 0-3.8 0zM143 153.4a1.9 1.7 0 1 0 3.8 0a1.9 1.7 0 1 0-3.8 0zM142.9 157.9a1.9 1.7 0 1 0 3.8 0a1.9 1.7 0 1 0-3.8 0zM142.9 160a1.9 1.7 0 1 0 3.8 0a1.9 1.7 0 1 0-3.8 0zM145.5 157.8a1.9 1.7 0 1 0 3.8 0a1.9 1.7 0 1 0-3.8 0zM144.8 157.1a1.9 1.7 0 1 0 3.8 0a1.9 1.7 0 1 0-3.8 0zM145.5 157.7a1.9 1.7 0 1 0 3.8 0a1.9 1.7 0 1 0-3.8 0zM145.8 160.4a1.9 1.7 0 1 0 3.8 0a1.9 1.7 0 1 0-3.8 0zM146.3 159.1a1.9 1.7 0 1 0 3.8 0a1.9 1.7 0 1 0-3.8 0zM147.8 158.7a1.9 1.7 0 1 0 3.8 0a1.9 1.7 0 1 0-3.8 0zM148.6 152.7a1.9 1.7 0 1 0 3.8 0a1.9 1.7 0 1 0-3.8 0zM149 155.5a1.9 1.7 0 1 0 3.8 0a1.9 1.7 0 1 0-3.8 0zM149.2 160.3a1.9 1.7 0 1 0 3.8 0a1.9 1.7 0 1 0-3.8 0zM151.7 155.5a1.9 1.7 0 1 0 3.8 0a1.9 1.7 0 1 0-3.8 0zM152.5 157.7a1.9 1.7 0 1 0 3.8 0a1.9 1.7 0 1 0-3.8 0zM151.5 158.1a1.9 1.7 0 1 0 3.8 0a1.9 1.7 0 1 0-3.8 0zM153.7 157.4a1.9 1.7 0 1 0 3.8 0a1.9 1.7 0 1 0-3.8 0zM153.5 159.2a1.9 1.7 0 1 0 3.8 0a1.9 1.7 0 1 0-3.8 0zM154.1 157.6a1.9 1.7 0 1 0 3.8 0a1.9 1.7 0 1 0-3.8 0zM156.3 156.4a1.9 1.7 0 1 0 3.8 0a1.9 1.7 0 1 0-3.8 0zM154.8 157.2a1.9 1.7 0 1 0 3.8 0a1.9 1.7 0 1 0-3.8 0zM156.8 156.1a1.9 1.7 0 1 0 3.8 0a1.9 1.7 0 1 0-3.8 0zM156.9 157.9a1.9 1.7 0 1 0 3.8 0a1.9 1.7 0 1 0-3.8 0zM157.7 155.2a1.9 1.7 0 1 0 3.8 0a1.9 1.7 0 1 0-3.8 0zM157.5 153.1a1.9 1.7 0 1 0 3.8 0a1.9 1.7 0 1 0-3.8 0zM158.8 157.5a1.9 1.7 0 1 0 3.8 0a1.9 1.7 0 1 0-3.8 0zM160.7 156.4a1.9 1.7 0 1 0 3.8 0a1.9 1.7 0 1 0-3.8 0zM160.5 156.7a1.9 1.7 0 1 0 3.8 0a1.9 1.7 0 1 0-3.8 0zM161.7 159.2a1.9 1.7 0 1 0 3.8 0a1.9 1.7 0 1 0-3.8 0zM162.4 154.3a1.9 1.7 0 1 0 3.8 0a1.9 1.7 0 1 0-3.8 0zM162 155.5a1.9 1.7 0 1 0 3.8 0a1.9 1.7 0 1 0-3.8 0zM163.2 154.6a1.9 1.7 0 1 0 3.8 0a1.9 1.7 0 1 0-3.8 0zM163.9 150.6a1.9 1.7 0 1 0 3.8 0a1.9 1.7 0 1 0-3.8 0zM164.4 153.5a1.9 1.7 0 1 0 3.8 0a1.9 1.7 0 1 0-3.8 0zM165.1 150.7a1.9 1.7 0 1 0 3.8 0a1.9 1.7 0 1 0-3.8 0zM166.2 153.4a1.9 1.7 0 1 0 3.8 0a1.9 1.7 0 1 0-3.8 0zM167.3 150.9a1.9 1.7 0 1 0 3.8 0a1.9 1.7 0 1 0-3.8 0zM167.3 150.3a1.9 1.7 0 1 0 3.8 0a1.9 1.7 0 1 0-3.8 0zM167.7 154.6a1.9 1.7 0 1 0 3.8 0a1.9 1.7 0 1 0-3.8 0zM169.7 150.7a1.9 1.7 0 1 0 3.8 0a1.9 1.7 0 1 0-3.8 0zM169.4 150.5a1.9 1.7 0 1 0 3.8 0a1.9 1.7 0 1 0-3.8 0zM171.1 151.2a1.9 1.7 0 1 0 3.8 0a1.9 1.7 0 1 0-3.8 0zM170.4 146.3a1.9 1.7 0 1 0 3.8 0a1.9 1.7 0 1 0-3.8 0zM170.9 148a1.9 1.7 0 1 0 3.8 0a1.9 1.7 0 1 0-3.8 0zM171.8 147.8a1.9 1.7 0 1 0 3.8 0a1.9 1.7 0 1 0-3.8 0zM172.5 149.5a1.9 1.7 0 1 0 3.8 0a1.9 1.7 0 1 0-3.8 0zM174.1 148.7a1.9 1.7 0 1 0 3.8 0a1.9 1.7 0 1 0-3.8 0zM174.6 146.7a1.9 1.7 0 1 0 3.8 0a1.9 1.7 0 1 0-3.8 0zM175.4 150.7a1.9 1.7 0 1 0 3.8 0a1.9 1.7 0 1 0-3.8 0zM175.9 146.1a1.9 1.7 0 1 0 3.8 0a1.9 1.7 0 1 0-3.8 0zM176.8 145.2a1.9 1.7 0 1 0 3.8 0a1.9 1.7 0 1 0-3.8 0zM176.7 148a1.9 1.7 0 1 0 3.8 0a1.9 1.7 0 1 0-3.8 0zM178.8 145.7a1.9 1.7 0 1 0 3.8 0a1.9 1.7 0 1 0-3.8 0zM178.8 144.7a1.9 1.7 0 1 0 3.8 0a1.9 1.7 0 1 0-3.8 0zM178.8 143.4a1.9 1.7 0 1 0 3.8 0a1.9 1.7 0 1 0-3.8 0zM181.6 143.9a1.9 1.7 0 1 0 3.8 0a1.9 1.7 0 1 0-3.8 0zM180.4 143.7a1.9 1.7 0 1 0 3.8 0a1.9 1.7 0 1 0-3.8 0zM181.4 143a1.9 1.7 0 1 0 3.8 0a1.9 1.7 0 1 0-3.8 0zM182.3 145.6a1.9 1.7 0 1 0 3.8 0a1.9 1.7 0 1 0-3.8 0zM183 148.6a1.9 1.7 0 1 0 3.8 0a1.9 1.7 0 1 0-3.8 0zM183.8 147.9a1.9 1.7 0 1 0 3.8 0a1.9 1.7 0 1 0-3.8 0zM183.3 146.9a1.9 1.7 0 1 0 3.8 0a1.9 1.7 0 1 0-3.8 0zM185 146a1.9 1.7 0 1 0 3.8 0a1.9 1.7 0 1 0-3.8 0zM184.2 146.3a1.9 1.7 0 1 0 3.8 0a1.9 1.7 0 1 0-3.8 0zM186.1 148.7a1.9 1.7 0 1 0 3.8 0a1.9 1.7 0 1 0-3.8 0zM186.9 146.8a1.9 1.7 0 1 0 3.8 0a1.9 1.7 0 1 0-3.8 0zM188.1 147.7a1.9 1.7 0 1 0 3.8 0a1.9 1.7 0 1 0-3.8 0zM187.8 146.2a1.9 1.7 0 1 0 3.8 0a1.9 1.7 0 1 0-3.8 0zM189.3 149.5a1.9 1.7 0 1 0 3.8 0a1.9 1.7 0 1 0-3.8 0zM189.5 148.8a1.9 1.7 0 1 0 3.8 0a1.9 1.7 0 1 0-3.8 0zM190.6 148.4a1.9 1.7 0 1 0 3.8 0a1.9 1.7 0 1 0-3.8 0zM190.6 152.5a1.9 1.7 0 1 0 3.8 0a1.9 1.7 0 1 0-3.8 0zM192.6 153.6a1.9 1.7 0 1 0 3.8 0a1.9 1.7 0 1 0-3.8 0zM193.2 150.4a1.9 1.7 0 1 0 3.8 0a1.9 1.7 0 1 0-3.8 0zM192.2 149a1.9 1.7 0 1 0 3.8 0a1.9 1.7 0 1 0-3.8 0zM193.8 149.8a1.9 1.7 0 1 0 3.8 0a1.9 1.7 0 1 0-3.8 0zM194.4 152a1.9 1.7 0 1 0 3.8 0a1.9 1.7 0 1 0-3.8 0zM194 153.2a1.9 1.7 0 1 0 3.8 0a1.9 1.7 0 1 0-3.8 0zM195.2 154.3a1.9 1.7 0 1 0 3.8 0a1.9 1.7 0 1 0-3.8 0zM196.6 152.7a1.9 1.7 0 1 0 3.8 0a1.9 1.7 0 1 0-3.8 0zM196.6 152.2a1.9 1.7 0 1 0 3.8 0a1.9 1.7 0 1 0-3.8 0zM198.3 153a1.9 1.7 0 1 0 3.8 0a1.9 1.7 0 1 0-3.8 0zM199.4 156.1a1.9 1.7 0 1 0 3.8 0a1.9 1.7 0 1 0-3.8 0zM199.1 153.9a1.9 1.7 0 1 0 3.8 0a1.9 1.7 0 1 0-3.8 0zM200.7 154.4a1.9 1.7 0 1 0 3.8 0a1.9 1.7 0 1 0-3.8 0zM202 153a1.9 1.7 0 1 0 3.8 0a1.9 1.7 0 1 0-3.8 0zM201.3 156.1a1.9 1.7 0 1 0 3.8 0a1.9 1.7 0 1 0-3.8 0zM203.2 157.9a1.9 1.7 0 1 0 3.8 0a1.9 1.7 0 1 0-3.8 0zM203.9 158.3a1.9 1.7 0 1 0 3.8 0a1.9 1.7 0 1 0-3.8 0zM204.8 158.5a1.9 1.7 0 1 0 3.8 0a1.9 1.7 0 1 0-3.8 0zM204.5 160.8a1.9 1.7 0 1 0 3.8 0a1.9 1.7 0 1 0-3.8 0zM205.4 161.6a1.9 1.7 0 1 0 3.8 0a1.9 1.7 0 1 0-3.8 0zM205.4 159.8a1.9 1.7 0 1 0 3.8 0a1.9 1.7 0 1 0-3.8 0zM207.2 159.6a1.9 1.7 0 1 0 3.8 0a1.9 1.7 0 1 0-3.8 0zM207.9 158.3a1.9 1.7 0 1 0 3.8 0a1.9 1.7 0 1 0-3.8 0zM208.3 161.6a1.9 1.7 0 1 0 3.8 0a1.9 1.7 0 1 0-3.8 0zM208.7 157.7a1.9 1.7 0 1 0 3.8 0a1.9 1.7 0 1 0-3.8 0zM209 162.9a1.9 1.7 0 1 0 3.8 0a1.9 1.7 0 1 0-3.8 0zM208.5 162.4a1.9 1.7 0 1 0 3.8 0a1.9 1.7 0 1 0-3.8 0zM210.4 163.8a1.9 1.7 0 1 0 3.8 0a1.9 1.7 0 1 0-3.8 0zM210.3 164.5a1.9 1.7 0 1 0 3.8 0a1.9 1.7 0 1 0-3.8 0zM212.1 164.6a1.9 1.7 0 1 0 3.8 0a1.9 1.7 0 1 0-3.8 0zM212.4 165.2a1.9 1.7 0 1 0 3.8 0a1.9 1.7 0 1 0-3.8 0zM215.3 163.2a1.9 1.7 0 1 0 3.8 0a1.9 1.7 0 1 0-3.8 0zM213.9 163.2a1.9 1.7 0 1 0 3.8 0a1.9 1.7 0 1 0-3.8 0zM214.4 164.5a1.9 1.7 0 1 0 3.8 0a1.9 1.7 0 1 0-3.8 0zM217 167.3a1.9 1.7 0 1 0 3.8 0a1.9 1.7 0 1 0-3.8 0zM215.3 164.4a1.9 1.7 0 1 0 3.8 0a1.9 1.7 0 1 0-3.8 0zM218 168a1.9 1.7 0 1 0 3.8 0a1.9 1.7 0 1 0-3.8 0zM218.7 167.7a1.9 1.7 0 1 0 3.8 0a1.9 1.7 0 1 0-3.8 0zM218.5 165.2a1.9 1.7 0 1 0 3.8 0a1.9 1.7 0 1 0-3.8 0zM218.3 164.6a1.9 1.7 0 1 0 3.8 0a1.9 1.7 0 1 0-3.8 0zM219.5 169a1.9 1.7 0 1 0 3.8 0a1.9 1.7 0 1 0-3.8 0zM220.8 171.5a1.9 1.7 0 1 0 3.8 0a1.9 1.7 0 1 0-3.8 0zM222 166.9a1.9 1.7 0 1 0 3.8 0a1.9 1.7 0 1 0-3.8 0zM222.4 171.4a1.9 1.7 0 1 0 3.8 0a1.9 1.7 0 1 0-3.8 0zM223.1 166.6a1.9 1.7 0 1 0 3.8 0a1.9 1.7 0 1 0-3.8 0zM223.2 171.2a1.9 1.7 0 1 0 3.8 0a1.9 1.7 0 1 0-3.8 0zM224.9 167.7a1.9 1.7 0 1 0 3.8 0a1.9 1.7 0 1 0-3.8 0zM224.1 169.4a1.9 1.7 0 1 0 3.8 0a1.9 1.7 0 1 0-3.8 0zM225.1 168.7a1.9 1.7 0 1 0 3.8 0a1.9 1.7 0 1 0-3.8 0zM226.4 170a1.9 1.7 0 1 0 3.8 0a1.9 1.7 0 1 0-3.8 0zM227.5 171.6a1.9 1.7 0 1 0 3.8 0a1.9 1.7 0 1 0-3.8 0zM228 167.1a1.9 1.7 0 1 0 3.8 0a1.9 1.7 0 1 0-3.8 0zM228.7 171.5a1.9 1.7 0 1 0 3.8 0a1.9 1.7 0 1 0-3.8 0zM228.7 171.8a1.9 1.7 0 1 0 3.8 0a1.9 1.7 0 1 0-3.8 0zM230.5 168.6a1.9 1.7 0 1 0 3.8 0a1.9 1.7 0 1 0-3.8 0zM229 168.6a1.9 1.7 0 1 0 3.8 0a1.9 1.7 0 1 0-3.8 0zM230.7 172.3a1.9 1.7 0 1 0 3.8 0a1.9 1.7 0 1 0-3.8 0zM230.9 170.2a1.9 1.7 0 1 0 3.8 0a1.9 1.7 0 1 0-3.8 0zM231.8 168.6a1.9 1.7 0 1 0 3.8 0a1.9 1.7 0 1 0-3.8 0zM233.6 170.4a1.9 1.7 0 1 0 3.8 0a1.9 1.7 0 1 0-3.8 0zM234.5 167.2a1.9 1.7 0 1 0 3.8 0a1.9 1.7 0 1 0-3.8 0zM234 169.3a1.9 1.7 0 1 0 3.8 0a1.9 1.7 0 1 0-3.8 0zM235.3 172.6a1.9 1.7 0 1 0 3.8 0a1.9 1.7 0 1 0-3.8 0zM237.4 169a1.9 1.7 0 1 0 3.8 0a1.9 1.7 0 1 0-3.8 0zM237 170.3a1.9 1.7 0 1 0 3.8 0a1.9 1.7 0 1 0-3.8 0zM238.5 172.2a1.9 1.7 0 1 0 3.8 0a1.9 1.7 0 1 0-3.8 0zM238.9 171.2a1.9 1.7 0 1 0 3.8 0a1.9 1.7 0 1 0-3.8 0zM239.7 170.7a1.9 1.7 0 1 0 3.8 0a1.9 1.7 0 1 0-3.8 0zM239.3 170.6a1.9 1.7 0 1 0 3.8 0a1.9 1.7 0 1 0-3.8 0zM240.5 175.1a1.9 1.7 0 1 0 3.8 0a1.9 1.7 0 1 0-3.8 0zM242.6 172.1a1.9 1.7 0 1 0 3.8 0a1.9 1.7 0 1 0-3.8 0zM241.1 172.5a1.9 1.7 0 1 0 3.8 0a1.9 1.7 0 1 0-3.8 0zM241.6 173.1a1.9 1.7 0 1 0 3.8 0a1.9 1.7 0 1 0-3.8 0zM243.9 173.7a1.9 1.7 0 1 0 3.8 0a1.9 1.7 0 1 0-3.8 0zM243.4 170.8a1.9 1.7 0 1 0 3.8 0a1.9 1.7 0 1 0-3.8 0zM244.5 172a1.9 1.7 0 1 0 3.8 0a1.9 1.7 0 1 0-3.8 0zM245.6 170a1.9 1.7 0 1 0 3.8 0a1.9 1.7 0 1 0-3.8 0zM245.6 168.2a1.9 1.7 0 1 0 3.8 0a1.9 1.7 0 1 0-3.8 0zM246.4 171a1.9 1.7 0 1 0 3.8 0a1.9 1.7 0 1 0-3.8 0zM246.4 172.1a1.9 1.7 0 1 0 3.8 0a1.9 1.7 0 1 0-3.8 0zM247.9 172.6a1.9 1.7 0 1 0 3.8 0a1.9 1.7 0 1 0-3.8 0zM247.7 170.5a1.9 1.7 0 1 0 3.8 0a1.9 1.7 0 1 0-3.8 0zM249.7 169.5a1.9 1.7 0 1 0 3.8 0a1.9 1.7 0 1 0-3.8 0zM111.6 85.3a1.9 1.7 0 1 0 3.8 0a1.9 1.7 0 1 0-3.8 0zM90.6 23.4a1.9 1.7 0 1 0 3.8 0a1.9 1.7 0 1 0-3.8 0zM65.3 65.6a1.9 1.7 0 1 0 3.8 0a1.9 1.7 0 1 0-3.8 0zM130.6 136a1.9 1.7 0 1 0 3.8 0a1.9 1.7 0 1 0-3.8 0zM101.4 50.8a1.9 1.7 0 1 0 3.8 0a1.9 1.7 0 1 0-3.8 0zM197.5 145.9a1.9 1.7 0 1 0 3.8 0a1.9 1.7 0 1 0-3.8 0zM165.4 147.5a1.9 1.7 0 1 0 3.8 0a1.9 1.7 0 1 0-3.8 0zM157.3 151.8a1.9 1.7 0 1 0 3.8 0a1.9 1.7 0 1 0-3.8 0zM97.9 44.3a1.9 1.7 0 1 0 3.8 0a1.9 1.7 0 1 0-3.8 0zM184 140.3a1.9 1.7 0 1 0 3.8 0a1.9 1.7 0 1 0-3.8 0zM240.3 168.4a1.9 1.7 0 1 0 3.8 0a1.9 1.7 0 1 0-3.8 0zM210.3 158.9a1.9 1.7 0 1 0 3.8 0a1.9 1.7 0 1 0-3.8 0zM230.9 158.3a1.9 1.7 0 1 0 3.8 0a1.9 1.7 0 1 0-3.8 0zM151.3 148.8a1.9 1.7 0 1 0 3.8 0a1.9 1.7 0 1 0-3.8 0zM231 166.1a1.9 1.7 0 1 0 3.8 0a1.9 1.7 0 1 0-3.8 0zM166.6 149.3a1.9 1.7 0 1 0 3.8 0a1.9 1.7 0 1 0-3.8 0zM160.3 148.1a1.9 1.7 0 1 0 3.8 0a1.9 1.7 0 1 0-3.8 0zM228.6 164a1.9 1.7 0 1 0 3.8 0a1.9 1.7 0 1 0-3.8 0zM194.2 146.1a1.9 1.7 0 1 0 3.8 0a1.9 1.7 0 1 0-3.8 0zM56.7 91.8a1.9 1.7 0 1 0 3.8 0a1.9 1.7 0 1 0-3.8 0zM138.1 151.2a1.9 1.7 0 1 0 3.8 0a1.9 1.7 0 1 0-3.8 0zM103.8 52.7a1.9 1.7 0 1 0 3.8 0a1.9 1.7 0 1 0-3.8 0zM212.1 157.9a1.9 1.7 0 1 0 3.8 0a1.9 1.7 0 1 0-3.8 0zM102.8 53.9a1.9 1.7 0 1 0 3.8 0a1.9 1.7 0 1 0-3.8 0zM217.7 162a1.9 1.7 0 1 0 3.8 0a1.9 1.7 0 1 0-3.8 0zM211.8 153.8a1.9 1.7 0 1 0 3.8 0a1.9 1.7 0 1 0-3.8 0zM105.2 63.7a1.9 1.7 0 1 0 3.8 0a1.9 1.7 0 1 0-3.8 0zM177.2 143.3a1.9 1.7 0 1 0 3.8 0a1.9 1.7 0 1 0-3.8 0zM87.1 23.6a1.9 1.7 0 1 0 3.8 0a1.9 1.7 0 1 0-3.8 0zM91.6 21a1.9 1.7 0 1 0 3.8 0a1.9 1.7 0 1 0-3.8 0zM78.1 29a1.9 1.7 0 1 0 3.8 0a1.9 1.7 0 1 0-3.8 0zM157.1 152a1.9 1.7 0 1 0 3.8 0a1.9 1.7 0 1 0-3.8 0zM204.1 156a1.9 1.7 0 1 0 3.8 0a1.9 1.7 0 1 0-3.8 0zM219.6 157a1.9 1.7 0 1 0 3.8 0a1.9 1.7 0 1 0-3.8 0zM238.1 164a1.9 1.7 0 1 0 3.8 0a1.9 1.7 0 1 0-3.8 0zM247.1 163a1.9 1.7 0 1 0 3.8 0a1.9 1.7 0 1 0-3.8 0zM172.1 137a1.9 1.7 0 1 0 3.8 0a1.9 1.7 0 1 0-3.8 0zM168.1 140a1.9 1.7 0 1 0 3.8 0a1.9 1.7 0 1 0-3.8 0zM133.1 134a1.9 1.7 0 1 0 3.8 0a1.9 1.7 0 1 0-3.8 0zM143.1 145a1.9 1.7 0 1 0 3.8 0a1.9 1.7 0 1 0-3.8 0zM147.1 147a1.9 1.7 0 1 0 3.8 0a1.9 1.7 0 1 0-3.8 0zM154.1 146a1.9 1.7 0 1 0 3.8 0a1.9 1.7 0 1 0-3.8 0z" fill="none" stroke="#2a3a9c" stroke-width="1.1"/>
<path d="M42.4 154.2h1.2v1.2h-1.2zM42.8 150.5h1.2v1.2h-1.2zM44.1 144.6h1.2v1.2h-1.2zM45.9 138.4h1.2v1.2h-1.2zM48.6 134.6h1.2v1.2h-1.2zM50.8 129h1.2v1.2h-1.2zM50.7 123.7h1.2v1.2h-1.2zM55.2 112h1.2v1.2h-1.2zM54.2 110.7h1.2v1.2h-1.2zM56.5 104.4h1.2v1.2h-1.2zM57.1 97.5h1.2v1.2h-1.2zM62.2 82.6h1.2v1.2h-1.2zM63.4 79.6h1.2v1.2h-1.2zM66.9 70h1.2v1.2h-1.2zM67.7 66.2h1.2v1.2h-1.2zM70.6 61.9h1.2v1.2h-1.2zM72.8 49.8h1.2v1.2h-1.2zM74.7 48.4h1.2v1.2h-1.2zM77 44.7h1.2v1.2h-1.2zM78.7 45.9h1.2v1.2h-1.2zM80 38.9h1.2v1.2h-1.2zM82 36.8h1.2v1.2h-1.2zM84.2 36.5h1.2v1.2h-1.2zM85.5 37.6h1.2v1.2h-1.2zM87.3 36.7h1.2v1.2h-1.2zM88.6 33.2h1.2v1.2h-1.2zM91.4 34.7h1.2v1.2h-1.2zM92.1 30.9h1.2v1.2h-1.2zM94.2 34.1h1.2v1.2h-1.2zM95.6 34h1.2v1.2h-1.2zM97.1 38.9h1.2v1.2h-1.2zM98.2 45.2h1.2v1.2h-1.2zM99.3 49.9h1.2v1.2h-1.2zM101.1 51.2h1.2v1.2h-1.2zM103.5 55.5h1.2v1.2h-1.2zM105.1 61.9h1.2v1.2h-1.2zM105.1 68.8h1.2v1.2h-1.2zM107.7 68.9h1.2v1.2h-1.2zM109.8 78.1h1.2v1.2h-1.2zM111.5 79.2h1.2v1.2h-1.2zM112 85h1.2v1.2h-1.2zM114.3 90.6h1.2v1.2h-1.2zM113.9 93.6h1.2v1.2h-1.2zM114.6 99.3h1.2v1.2h-1.2zM117.6 107.8h1.2v1.2h-1.2zM118.9 111.5h1.2v1.2h-1.2zM120.4 118.5h1.2v1.2h-1.2zM126.2 130.9h1.2v1.2h-1.2zM127.4 134.8h1.2v1.2h-1.2zM129.2 138.3h1.2v1.2h-1.2zM133.4 146.6h1.2v1.2h-1.2zM134.5 147h1.2v1.2h-1.2zM135 150.6h1.2v1.2h-1.2zM139 152.8h1.2v1.2h-1.2zM139.4 157.2h1.2v1.2h-1.2zM144 155.9h1.2v1.2h-1.2zM145.8 159.7h1.2v1.2h-1.2zM146.3 159h1.2v1.2h-1.2zM149.6 156.7h1.2v1.2h-1.2zM152.7 156.5h1.2v1.2h-1.2zM153.9 160.2h1.2v1.2h-1.2zM155.5 158.3h1.2v1.2h-1.2zM156.9 158.8h1.2v1.2h-1.2zM158.3 157h1.2v1.2h-1.2zM159.3 158h1.2v1.2h-1.2zM162.4 157.1h1.2v1.2h-1.2zM162.4 155h1.2v1.2h-1.2zM165.1 155.1h1.2v1.2h-1.2zM165.6 154.5h1.2v1.2h-1.2zM168.1 153.9h1.2v1.2h-1.2zM169.9 153.8h1.2v1.2h-1.2zM170.8 152.4h1.2v1.2h-1.2zM173.1 150h1.2v1.2h-1.2zM175.3 149.9h1.2v1.2h-1.2zM179.3 145.8h1.2v1.2h-1.2zM180.4 147.3h1.2v1.2h-1.2zM180.4 144.8h1.2v1.2h-1.2zM183.4 142.8h1.2v1.2h-1.2zM185.9 146h1.2v1.2h-1.2zM187.4 147.5h1.2v1.2h-1.2zM189.9 144.6h1.2v1.2h-1.2zM189.8 147.9h1.2v1.2h-1.2zM190 148.7h1.2v1.2h-1.2zM193.4 148.2h1.2v1.2h-1.2zM195.8 151.1h1.2v1.2h-1.2zM196.6 152.3h1.2v1.2h-1.2zM199.4 154.5h1.2v1.2h-1.2zM205 157.6h1.2v1.2h-1.2zM203.7 155.7h1.2v1.2h-1.2zM207.1 157.6h1.2v1.2h-1.2zM207.5 159.8h1.2v1.2h-1.2zM209 160.2h1.2v1.2h-1.2zM211.7 160.1h1.2v1.2h-1.2zM211.4 160.5h1.2v1.2h-1.2zM217.8 165.3h1.2v1.2h-1.2zM219.8 165.4h1.2v1.2h-1.2zM223.3 168.3h1.2v1.2h-1.2zM224.6 169.8h1.2v1.2h-1.2zM226.3 170h1.2v1.2h-1.2zM228.7 172.5h1.2v1.2h-1.2zM229.8 167.7h1.2v1.2h-1.2zM229.9 169.2h1.2v1.2h-1.2zM231.4 170.1h1.2v1.2h-1.2zM233.4 170.7h1.2v1.2h-1.2zM234.4 173.6h1.2v1.2h-1.2zM235.7 170.1h1.2v1.2h-1.2zM239.7 172h1.2v1.2h-1.2zM239.2 173.4h1.2v1.2h-1.2zM242.2 173.9h1.2v1.2h-1.2zM243 172.9h1.2v1.2h-1.2zM246.4 171.2h1.2v1.2h-1.2zM247.1 171.4h1.2v1.2h-1.2zM247.2 170.3h1.2v1.2h-1.2zM251.6 172.5h1.2v1.2h-1.2zM251.1 171.4h1.2v1.2h-1.2z" fill="#fff" opacity="0.6"/>
</g>
<path d="M42 30.6h8M251 30.6h-4.5M42 59.1h8M251 59.1h-4.5M42 87.6h8M251 87.6h-4.5M42 116.1h8M251 116.1h-4.5M42 144.6h8M251 144.6h-4.5M42 173.1h8M251 173.1h-4.5M42 44.8h3M251 44.8h-4M42 73.3h3M251 73.3h-4M42 101.8h3M251 101.8h-4M42 130.3h3M251 130.3h-4M42 158.8h3M251 158.8h-4M57.3 179.5v-4M57.3 16.5v4M87.1 179.5v-2.5M87.1 16.5v2.5M116.9 179.5v-4M116.9 16.5v4M146.7 179.5v-2.5M146.7 16.5v2.5M176.5 179.5v-4M176.5 16.5v4M206.3 179.5v-2.5M206.3 16.5v2.5M236.1 179.5v-4M236.1 16.5v4M265.9 179.5v-2.5M265.9 16.5v2.5" stroke="#555" stroke-width="1.3" fill="none"/>
<rect x="42" y="16.5" width="209" height="163" fill="none" stroke="#111" stroke-width="2"/>
<text x="50.8" y="38.3" font-family="Liberation Sans" font-weight="bold" font-style="italic" font-size="19" fill="#e0128a" stroke="#e0128a" stroke-width="0.6" textLength="11.2" lengthAdjust="spacingAndGlyphs">a</text>
<text x="63" y="38.6" font-family="Liberation Sans" font-weight="bold" font-size="19" fill="#e0128a" stroke="#e0128a" stroke-width="0.5" textLength="6.3" lengthAdjust="spacingAndGlyphs">)</text>
<circle cx="162.6" cy="40.2" r="4.1" fill="none" stroke="#3a46a8" stroke-width="1.7"/>
<path d="M162.6 56.6 L167 63.4 L158.2 63.4 Z" fill="none" stroke="#e0401e" stroke-width="1.7" stroke-linejoin="miter"/>
<text x="173" y="45.3" font-family="Liberation Sans" font-size="16.8" fill="#222" textLength="50.6" lengthAdjust="spacingAndGlyphs">Corner</text>
<text x="173.2" y="65" font-family="Liberation Sans" font-size="16.8" fill="#222" textLength="36.2" lengthAdjust="spacingAndGlyphs">Edge</text>
<text x="148.4" y="128.4" font-family="Liberation Sans" font-size="17" fill="#222" textLength="58.6" lengthAdjust="spacingAndGlyphs">2.86 eV</text>
<text x="57.3" y="196.8" font-family="Liberation Sans" font-size="18" fill="#222" text-anchor="middle" textLength="8.5" lengthAdjust="spacingAndGlyphs">2</text>
<text x="116.9" y="196.8" font-family="Liberation Sans" font-size="18" fill="#222" text-anchor="middle" textLength="21.8" lengthAdjust="spacingAndGlyphs">2.4</text>
<text x="176.5" y="196.8" font-family="Liberation Sans" font-size="18" fill="#222" text-anchor="middle" textLength="21.8" lengthAdjust="spacingAndGlyphs">2.8</text>
<text x="236.1" y="196.8" font-family="Liberation Sans" font-size="18" fill="#222" text-anchor="middle" textLength="21.8" lengthAdjust="spacingAndGlyphs">3.2</text>
<text x="98.8" y="213" font-family="Liberation Sans" font-size="16.5" fill="#222" stroke="#222" stroke-width="0.45" textLength="92.4" lengthAdjust="spacingAndGlyphs">Energy (eV)</text>
<text transform="translate(27,177.5) rotate(-90)" x="0" y="0" font-family="Liberation Sans" font-size="16.2" fill="#222" stroke="#222" stroke-width="0.25" textLength="160" lengthAdjust="spacingAndGlyphs">XEOL inten. (arb. u.)</text>
<rect x="42" y="224.5" width="209" height="166.5" fill="url(#gd)"/>
<g clip-path="url(#cd)">
<path d="M42 396H43V396H44V396H45V396H46V396H47V396H48V396H49V396H50V396H51V396H52V396H53V396H54V396H55V396H56V396H57V396H58V396H59V396H60V396H61V396H62V396H63V396H64V396H65V396H66V376.9H67V396H68V376.2H69V396H70V396H71V396H72V385.1H73V396H74V387.8H75V396H76V396H77V330H78V300H79V285H80V270H81V263.8H82V257.5H83V251.2H84V245H85V242.6H86V240.1H87V237.7H88V235.2H89V239.4H90V250.1H91V260.8H92V271.5H93V282.3H94V293H95V303.7H96V315.4H97V327.7H98V340H99V346.2H100V352.4H101V358.6H102V364.8H103V371H104V396H105V396H106V369.7H107V396H108V377.3H109V364.4H110V396H111V380.1H112V396H113V396H114V396H115V396H116V396H117V396H118V396H119V373.5H120V373.5H121V387.5H122V372.7H123V396H124V375H125V396H126V396H127V373.4H128V392.3H129V396H130V387H131V387.6H132V375H133V379H134V396H135V396H136V396H137V396H138V396H139V396H140V396H141V396H142V396H143V396H144V396H145V396H146V396H147V396H148V396H149V396H150V396H151V396H152V388.1H153V396H154V396H155V396H156V396H157V396H158V396H159V396H160V396H161V396H162V396H163V396H164V396H165V396H166V396H167V396H168V396H169V396H170V396H171V396H172V396H173V396H174V396H175V396H176V396H177V396H178V396H179V396H180V396H181V396H182V396H183V396H184V396H185V396H186V396H187V396H188V396H189V396H190V396H191V377.5H192V385.4H193V396H194V384H195V380.3H196V375.3H197V383.1H198V396H199V384H200V380H201V396H202V386.1H203V396H204V396H205V396H206V396H207V396H208V396H209V396H210V396H211V396H212V396H213V396H214V396H215V396H216V396H217V396H218V396H219V396H220V396H221V396H222V396H223V396H224V396H225V396H226V396H227V396H228V396H229V396H230V396H231V396H232V396H233V396H234V396H235V396H236V396H237V396H238V396H239V396H240V396H241V396H242V396H243V396H244V396H245V396H246V396H247V396H248V396H249V396H250V396H251V396" fill="none" stroke="#88888c" stroke-width="2"/>
<path d="M100 392V392M100.8 392V376.9M101.6 392V384.3M102.4 392V392M103.2 392V383.8M104 392V392M104.8 392V389.3M105.6 392V369.5M106.4 392V385M107.2 392V376.4M108 392V379.4M108.8 392V385.8M109.6 392V392M110.4 392V392M111.2 392V373.2M112 392V392M112.8 392V392M113.6 392V392M114.4 392V392M115.2 392V392M116 392V392M116.8 392V378.8M117.6 392V379.6M118.4 392V380" fill="none" stroke="#88888c" stroke-width="1.2"/>
<path d="M42 373.4l2.6 2.6-2.6 2.6-2.6-2.6zM42.6 373.4l2.6 2.6-2.6 2.6-2.6-2.6zM45.6 373.4l2.6 2.6-2.6 2.6-2.6-2.6zM47.4 360.9l2.6 2.6-2.6 2.6-2.6-2.6zM51.6 373.4l2.6 2.6-2.6 2.6-2.6-2.6zM52.8 373.4l2.6 2.6-2.6 2.6-2.6-2.6zM53.4 373.4l2.6 2.6-2.6 2.6-2.6-2.6zM57 373.4l2.6 2.6-2.6 2.6-2.6-2.6zM60 373.4l2.6 2.6-2.6 2.6-2.6-2.6zM63 373.4l2.6 2.6-2.6 2.6-2.6-2.6zM64.8 360.9l2.6 2.6-2.6 2.6-2.6-2.6zM65.4 373.4l2.6 2.6-2.6 2.6-2.6-2.6zM66 373.4l2.6 2.6-2.6 2.6-2.6-2.6zM66.6 373.4l2.6 2.6-2.6 2.6-2.6-2.6zM70.8 373.4l2.6 2.6-2.6 2.6-2.6-2.6zM71.4 373.4l2.6 2.6-2.6 2.6-2.6-2.6zM72 373.4l2.6 2.6-2.6 2.6-2.6-2.6zM72.6 373.4l2.6 2.6-2.6 2.6-2.6-2.6zM73.2 373.4l2.6 2.6-2.6 2.6-2.6-2.6zM89.1 228.7l2.6 2.6-2.6 2.6-2.6-2.6zM89.1 233.9l2.6 2.6-2.6 2.6-2.6-2.6zM88.3 231.7l2.6 2.6-2.6 2.6-2.6-2.6zM91 229.9l2.6 2.6-2.6 2.6-2.6-2.6zM88.2 232.5l2.6 2.6-2.6 2.6-2.6-2.6zM89.5 232.3l2.6 2.6-2.6 2.6-2.6-2.6zM90.5 234.4l2.6 2.6-2.6 2.6-2.6-2.6zM90.9 233.4l2.6 2.6-2.6 2.6-2.6-2.6zM90.1 231.4l2.6 2.6-2.6 2.6-2.6-2.6zM90 233.9l2.6 2.6-2.6 2.6-2.6-2.6zM91.5 234.3l2.6 2.6-2.6 2.6-2.6-2.6zM90 234.6l2.6 2.6-2.6 2.6-2.6-2.6zM91 238.2l2.6 2.6-2.6 2.6-2.6-2.6zM91.9 236.8l2.6 2.6-2.6 2.6-2.6-2.6zM90.2 237l2.6 2.6-2.6 2.6-2.6-2.6zM89.4 237l2.6 2.6-2.6 2.6-2.6-2.6zM91.8 238.7l2.6 2.6-2.6 2.6-2.6-2.6zM92.6 237.5l2.6 2.6-2.6 2.6-2.6-2.6zM92.3 239.2l2.6 2.6-2.6 2.6-2.6-2.6zM91.1 237.2l2.6 2.6-2.6 2.6-2.6-2.6zM92.6 236.8l2.6 2.6-2.6 2.6-2.6-2.6zM92.7 237.9l2.6 2.6-2.6 2.6-2.6-2.6zM92.1 238.7l2.6 2.6-2.6 2.6-2.6-2.6zM92.5 240l2.6 2.6-2.6 2.6-2.6-2.6zM92.6 242.7l2.6 2.6-2.6 2.6-2.6-2.6zM93.8 240.7l2.6 2.6-2.6 2.6-2.6-2.6zM92.5 242.2l2.6 2.6-2.6 2.6-2.6-2.6zM93 240.8l2.6 2.6-2.6 2.6-2.6-2.6zM94.7 245.5l2.6 2.6-2.6 2.6-2.6-2.6zM93 242.2l2.6 2.6-2.6 2.6-2.6-2.6zM95.3 246.1l2.6 2.6-2.6 2.6-2.6-2.6zM94 245.7l2.6 2.6-2.6 2.6-2.6-2.6zM95.2 247.2l2.6 2.6-2.6 2.6-2.6-2.6zM96.6 245.2l2.6 2.6-2.6 2.6-2.6-2.6zM96.2 246.3l2.6 2.6-2.6 2.6-2.6-2.6zM95.8 244.4l2.6 2.6-2.6 2.6-2.6-2.6zM96.5 248l2.6 2.6-2.6 2.6-2.6-2.6zM95.3 247.1l2.6 2.6-2.6 2.6-2.6-2.6zM98.5 248.1l2.6 2.6-2.6 2.6-2.6-2.6zM96.1 247.2l2.6 2.6-2.6 2.6-2.6-2.6zM96.1 248.2l2.6 2.6-2.6 2.6-2.6-2.6zM95.5 248.2l2.6 2.6-2.6 2.6-2.6-2.6zM98 253.3l2.6 2.6-2.6 2.6-2.6-2.6zM99 248.7l2.6 2.6-2.6 2.6-2.6-2.6zM97.5 249l2.6 2.6-2.6 2.6-2.6-2.6zM97.9 253.8l2.6 2.6-2.6 2.6-2.6-2.6zM98 251.4l2.6 2.6-2.6 2.6-2.6-2.6zM97 252.8l2.6 2.6-2.6 2.6-2.6-2.6zM97.5 256.3l2.6 2.6-2.6 2.6-2.6-2.6zM98.5 253l2.6 2.6-2.6 2.6-2.6-2.6zM98.7 253.9l2.6 2.6-2.6 2.6-2.6-2.6zM99.4 257.8l2.6 2.6-2.6 2.6-2.6-2.6zM97.9 254.8l2.6 2.6-2.6 2.6-2.6-2.6zM98.6 255.2l2.6 2.6-2.6 2.6-2.6-2.6zM100.7 256.4l2.6 2.6-2.6 2.6-2.6-2.6zM98.4 255.7l2.6 2.6-2.6 2.6-2.6-2.6zM99.9 255.1l2.6 2.6-2.6 2.6-2.6-2.6zM99.4 259l2.6 2.6-2.6 2.6-2.6-2.6zM99.7 258.6l2.6 2.6-2.6 2.6-2.6-2.6zM100.1 257l2.6 2.6-2.6 2.6-2.6-2.6zM100.6 261l2.6 2.6-2.6 2.6-2.6-2.6zM100.3 262.5l2.6 2.6-2.6 2.6-2.6-2.6zM100.1 263.2l2.6 2.6-2.6 2.6-2.6-2.6zM101.4 263.2l2.6 2.6-2.6 2.6-2.6-2.6zM100.6 260l2.6 2.6-2.6 2.6-2.6-2.6zM100.5 262.6l2.6 2.6-2.6 2.6-2.6-2.6zM101.8 264.4l2.6 2.6-2.6 2.6-2.6-2.6zM101.6 263.9l2.6 2.6-2.6 2.6-2.6-2.6zM102.8 265.7l2.6 2.6-2.6 2.6-2.6-2.6zM102.1 265.9l2.6 2.6-2.6 2.6-2.6-2.6zM101.7 268.1l2.6 2.6-2.6 2.6-2.6-2.6zM102.5 263.7l2.6 2.6-2.6 2.6-2.6-2.6zM103.3 264.5l2.6 2.6-2.6 2.6-2.6-2.6zM105.3 265.3l2.6 2.6-2.6 2.6-2.6-2.6zM102.8 265.2l2.6 2.6-2.6 2.6-2.6-2.6zM104.5 264.8l2.6 2.6-2.6 2.6-2.6-2.6zM102.9 265.8l2.6 2.6-2.6 2.6-2.6-2.6zM103.3 268.2l2.6 2.6-2.6 2.6-2.6-2.6zM102.8 270.5l2.6 2.6-2.6 2.6-2.6-2.6zM104.6 269.3l2.6 2.6-2.6 2.6-2.6-2.6zM103.9 269.3l2.6 2.6-2.6 2.6-2.6-2.6zM104.7 268.6l2.6 2.6-2.6 2.6-2.6-2.6zM106.4 270.9l2.6 2.6-2.6 2.6-2.6-2.6zM105.8 272.3l2.6 2.6-2.6 2.6-2.6-2.6zM105.1 268l2.6 2.6-2.6 2.6-2.6-2.6zM106.1 268.3l2.6 2.6-2.6 2.6-2.6-2.6zM105.8 272.7l2.6 2.6-2.6 2.6-2.6-2.6zM106.9 273.9l2.6 2.6-2.6 2.6-2.6-2.6zM105.8 271.9l2.6 2.6-2.6 2.6-2.6-2.6zM105.6 271.5l2.6 2.6-2.6 2.6-2.6-2.6zM106.2 269.7l2.6 2.6-2.6 2.6-2.6-2.6zM104.7 276l2.6 2.6-2.6 2.6-2.6-2.6zM106.6 278.2l2.6 2.6-2.6 2.6-2.6-2.6zM106.5 275.7l2.6 2.6-2.6 2.6-2.6-2.6zM107.1 272.3l2.6 2.6-2.6 2.6-2.6-2.6zM107.4 274.7l2.6 2.6-2.6 2.6-2.6-2.6zM107.4 277.6l2.6 2.6-2.6 2.6-2.6-2.6zM108 278.5l2.6 2.6-2.6 2.6-2.6-2.6zM107.1 276.3l2.6 2.6-2.6 2.6-2.6-2.6zM109.6 279.8l2.6 2.6-2.6 2.6-2.6-2.6zM108.6 278.7l2.6 2.6-2.6 2.6-2.6-2.6zM108 276.7l2.6 2.6-2.6 2.6-2.6-2.6zM109 276.2l2.6 2.6-2.6 2.6-2.6-2.6zM108.6 277.9l2.6 2.6-2.6 2.6-2.6-2.6zM107.9 280l2.6 2.6-2.6 2.6-2.6-2.6zM110.1 280.2l2.6 2.6-2.6 2.6-2.6-2.6zM110.3 279.2l2.6 2.6-2.6 2.6-2.6-2.6zM110.7 281.9l2.6 2.6-2.6 2.6-2.6-2.6zM111.2 282.7l2.6 2.6-2.6 2.6-2.6-2.6zM111.9 280.6l2.6 2.6-2.6 2.6-2.6-2.6zM110.1 280.9l2.6 2.6-2.6 2.6-2.6-2.6zM111.2 282l2.6 2.6-2.6 2.6-2.6-2.6zM111.5 284l2.6 2.6-2.6 2.6-2.6-2.6zM110.9 282.3l2.6 2.6-2.6 2.6-2.6-2.6zM113.2 285.2l2.6 2.6-2.6 2.6-2.6-2.6zM110.7 285.7l2.6 2.6-2.6 2.6-2.6-2.6zM111.1 285.6l2.6 2.6-2.6 2.6-2.6-2.6zM112.2 288.9l2.6 2.6-2.6 2.6-2.6-2.6zM111.1 287.3l2.6 2.6-2.6 2.6-2.6-2.6zM112 282.7l2.6 2.6-2.6 2.6-2.6-2.6zM113.9 284.6l2.6 2.6-2.6 2.6-2.6-2.6zM112.8 291l2.6 2.6-2.6 2.6-2.6-2.6zM111.8 288.4l2.6 2.6-2.6 2.6-2.6-2.6zM113.5 289l2.6 2.6-2.6 2.6-2.6-2.6zM112.9 290.8l2.6 2.6-2.6 2.6-2.6-2.6zM113.3 291.4l2.6 2.6-2.6 2.6-2.6-2.6zM114.4 288.3l2.6 2.6-2.6 2.6-2.6-2.6zM115.6 291.8l2.6 2.6-2.6 2.6-2.6-2.6zM113.2 293.9l2.6 2.6-2.6 2.6-2.6-2.6zM116.3 292.3l2.6 2.6-2.6 2.6-2.6-2.6zM115.1 290.8l2.6 2.6-2.6 2.6-2.6-2.6zM114.7 293.7l2.6 2.6-2.6 2.6-2.6-2.6zM114.7 291.7l2.6 2.6-2.6 2.6-2.6-2.6zM115.2 293.7l2.6 2.6-2.6 2.6-2.6-2.6zM116 297.8l2.6 2.6-2.6 2.6-2.6-2.6zM115.7 291.7l2.6 2.6-2.6 2.6-2.6-2.6zM117.3 292.3l2.6 2.6-2.6 2.6-2.6-2.6zM116.4 295.5l2.6 2.6-2.6 2.6-2.6-2.6zM116.9 297.5l2.6 2.6-2.6 2.6-2.6-2.6zM117 294.7l2.6 2.6-2.6 2.6-2.6-2.6zM116.4 295.1l2.6 2.6-2.6 2.6-2.6-2.6zM117.6 297l2.6 2.6-2.6 2.6-2.6-2.6zM117 300.6l2.6 2.6-2.6 2.6-2.6-2.6zM117.2 305.5l2.6 2.6-2.6 2.6-2.6-2.6zM118.2 299l2.6 2.6-2.6 2.6-2.6-2.6zM117.4 297.1l2.6 2.6-2.6 2.6-2.6-2.6zM119.6 301l2.6 2.6-2.6 2.6-2.6-2.6zM118 298.7l2.6 2.6-2.6 2.6-2.6-2.6zM118.5 302.7l2.6 2.6-2.6 2.6-2.6-2.6zM118 298.2l2.6 2.6-2.6 2.6-2.6-2.6zM117.7 298.3l2.6 2.6-2.6 2.6-2.6-2.6zM119.5 302.6l2.6 2.6-2.6 2.6-2.6-2.6zM118.7 303.7l2.6 2.6-2.6 2.6-2.6-2.6zM120.2 307.5l2.6 2.6-2.6 2.6-2.6-2.6zM118.8 303l2.6 2.6-2.6 2.6-2.6-2.6zM119.9 303.8l2.6 2.6-2.6 2.6-2.6-2.6zM119.9 305.2l2.6 2.6-2.6 2.6-2.6-2.6zM121.3 305.6l2.6 2.6-2.6 2.6-2.6-2.6zM120.2 304.7l2.6 2.6-2.6 2.6-2.6-2.6zM121 304.8l2.6 2.6-2.6 2.6-2.6-2.6zM120 304.9l2.6 2.6-2.6 2.6-2.6-2.6zM122.6 308.2l2.6 2.6-2.6 2.6-2.6-2.6zM121.2 309.4l2.6 2.6-2.6 2.6-2.6-2.6zM122.2 306.5l2.6 2.6-2.6 2.6-2.6-2.6zM122.6 306.9l2.6 2.6-2.6 2.6-2.6-2.6zM121.5 307.8l2.6 2.6-2.6 2.6-2.6-2.6zM120.2 305.5l2.6 2.6-2.6 2.6-2.6-2.6zM121.9 308.6l2.6 2.6-2.6 2.6-2.6-2.6zM121.4 304.4l2.6 2.6-2.6 2.6-2.6-2.6zM123.2 307.2l2.6 2.6-2.6 2.6-2.6-2.6zM121.9 301.1l2.6 2.6-2.6 2.6-2.6-2.6zM123.1 307.7l2.6 2.6-2.6 2.6-2.6-2.6zM122.5 306.6l2.6 2.6-2.6 2.6-2.6-2.6zM124 314.1l2.6 2.6-2.6 2.6-2.6-2.6zM123.2 314.6l2.6 2.6-2.6 2.6-2.6-2.6zM122.4 314.3l2.6 2.6-2.6 2.6-2.6-2.6zM123.3 307.3l2.6 2.6-2.6 2.6-2.6-2.6zM125.2 309.5l2.6 2.6-2.6 2.6-2.6-2.6zM123.7 306.7l2.6 2.6-2.6 2.6-2.6-2.6zM123.1 314.6l2.6 2.6-2.6 2.6-2.6-2.6zM124.3 312.2l2.6 2.6-2.6 2.6-2.6-2.6zM124 310.2l2.6 2.6-2.6 2.6-2.6-2.6zM124 310.2l2.6 2.6-2.6 2.6-2.6-2.6zM125.7 310.1l2.6 2.6-2.6 2.6-2.6-2.6zM124.8 314.5l2.6 2.6-2.6 2.6-2.6-2.6zM124.8 310.5l2.6 2.6-2.6 2.6-2.6-2.6zM125.3 312.2l2.6 2.6-2.6 2.6-2.6-2.6zM126.4 308.8l2.6 2.6-2.6 2.6-2.6-2.6zM125.9 313.9l2.6 2.6-2.6 2.6-2.6-2.6zM127.4 315.9l2.6 2.6-2.6 2.6-2.6-2.6zM125.8 313.7l2.6 2.6-2.6 2.6-2.6-2.6zM126.8 316.4l2.6 2.6-2.6 2.6-2.6-2.6zM128.1 307.2l2.6 2.6-2.6 2.6-2.6-2.6zM126.3 314.1l2.6 2.6-2.6 2.6-2.6-2.6zM127.1 317.2l2.6 2.6-2.6 2.6-2.6-2.6zM127.8 315l2.6 2.6-2.6 2.6-2.6-2.6zM128.1 309.5l2.6 2.6-2.6 2.6-2.6-2.6zM128.2 318.9l2.6 2.6-2.6 2.6-2.6-2.6zM128.6 318.2l2.6 2.6-2.6 2.6-2.6-2.6zM128.1 316.4l2.6 2.6-2.6 2.6-2.6-2.6zM128.7 313.5l2.6 2.6-2.6 2.6-2.6-2.6zM129.1 322.1l2.6 2.6-2.6 2.6-2.6-2.6zM129.4 315.3l2.6 2.6-2.6 2.6-2.6-2.6zM129.8 324.6l2.6 2.6-2.6 2.6-2.6-2.6zM129.8 321l2.6 2.6-2.6 2.6-2.6-2.6zM128.8 316.2l2.6 2.6-2.6 2.6-2.6-2.6zM128.6 318.8l2.6 2.6-2.6 2.6-2.6-2.6zM129.9 325l2.6 2.6-2.6 2.6-2.6-2.6zM129.9 324.6l2.6 2.6-2.6 2.6-2.6-2.6zM131.7 327.6l2.6 2.6-2.6 2.6-2.6-2.6zM130.2 320.6l2.6 2.6-2.6 2.6-2.6-2.6zM130.7 329.1l2.6 2.6-2.6 2.6-2.6-2.6zM129.9 326.7l2.6 2.6-2.6 2.6-2.6-2.6zM130.7 318.1l2.6 2.6-2.6 2.6-2.6-2.6zM132.6 327.5l2.6 2.6-2.6 2.6-2.6-2.6zM129.7 330.3l2.6 2.6-2.6 2.6-2.6-2.6zM130.9 331.5l2.6 2.6-2.6 2.6-2.6-2.6zM131.6 320.2l2.6 2.6-2.6 2.6-2.6-2.6zM131.3 325l2.6 2.6-2.6 2.6-2.6-2.6zM132.9 328.7l2.6 2.6-2.6 2.6-2.6-2.6zM133.5 326.3l2.6 2.6-2.6 2.6-2.6-2.6zM134 329.2l2.6 2.6-2.6 2.6-2.6-2.6zM132.9 323.9l2.6 2.6-2.6 2.6-2.6-2.6zM132 327.1l2.6 2.6-2.6 2.6-2.6-2.6zM133.8 328.1l2.6 2.6-2.6 2.6-2.6-2.6zM134.1 329.5l2.6 2.6-2.6 2.6-2.6-2.6zM132.1 331.2l2.6 2.6-2.6 2.6-2.6-2.6zM133.8 336.4l2.6 2.6-2.6 2.6-2.6-2.6zM134.7 323.8l2.6 2.6-2.6 2.6-2.6-2.6zM133.6 318.1l2.6 2.6-2.6 2.6-2.6-2.6zM135.1 333.4l2.6 2.6-2.6 2.6-2.6-2.6zM134.9 332.7l2.6 2.6-2.6 2.6-2.6-2.6zM135.5 334.1l2.6 2.6-2.6 2.6-2.6-2.6zM135.6 339.9l2.6 2.6-2.6 2.6-2.6-2.6zM135.6 328.2l2.6 2.6-2.6 2.6-2.6-2.6zM135.6 330.5l2.6 2.6-2.6 2.6-2.6-2.6zM136.6 336.3l2.6 2.6-2.6 2.6-2.6-2.6zM134.9 326l2.6 2.6-2.6 2.6-2.6-2.6zM135.5 336.8l2.6 2.6-2.6 2.6-2.6-2.6zM135.5 323.6l2.6 2.6-2.6 2.6-2.6-2.6zM136 328.9l2.6 2.6-2.6 2.6-2.6-2.6zM136.6 324.8l2.6 2.6-2.6 2.6-2.6-2.6zM136.9 325.1l2.6 2.6-2.6 2.6-2.6-2.6zM138.6 338.6l2.6 2.6-2.6 2.6-2.6-2.6zM136.3 344l2.6 2.6-2.6 2.6-2.6-2.6zM138 334.2l2.6 2.6-2.6 2.6-2.6-2.6zM137.8 330.5l2.6 2.6-2.6 2.6-2.6-2.6zM138.4 336.5l2.6 2.6-2.6 2.6-2.6-2.6zM137.2 324.3l2.6 2.6-2.6 2.6-2.6-2.6zM140.5 338.1l2.6 2.6-2.6 2.6-2.6-2.6zM139.6 335.9l2.6 2.6-2.6 2.6-2.6-2.6zM138.3 336l2.6 2.6-2.6 2.6-2.6-2.6zM139.3 323.5l2.6 2.6-2.6 2.6-2.6-2.6zM138.7 339.3l2.6 2.6-2.6 2.6-2.6-2.6zM139.8 330.4l2.6 2.6-2.6 2.6-2.6-2.6zM140.3 338.9l2.6 2.6-2.6 2.6-2.6-2.6zM140.3 343.7l2.6 2.6-2.6 2.6-2.6-2.6zM141 332.1l2.6 2.6-2.6 2.6-2.6-2.6zM140.2 329.2l2.6 2.6-2.6 2.6-2.6-2.6zM140.9 335.5l2.6 2.6-2.6 2.6-2.6-2.6zM139.7 323.3l2.6 2.6-2.6 2.6-2.6-2.6zM141.8 332.5l2.6 2.6-2.6 2.6-2.6-2.6zM141.9 340.6l2.6 2.6-2.6 2.6-2.6-2.6zM141.5 343.1l2.6 2.6-2.6 2.6-2.6-2.6zM142 331.7l2.6 2.6-2.6 2.6-2.6-2.6zM142.3 331.5l2.6 2.6-2.6 2.6-2.6-2.6zM141.9 344.7l2.6 2.6-2.6 2.6-2.6-2.6zM142.2 338.3l2.6 2.6-2.6 2.6-2.6-2.6zM142.8 331.9l2.6 2.6-2.6 2.6-2.6-2.6zM143.4 348.4l2.6 2.6-2.6 2.6-2.6-2.6zM144 335.9l2.6 2.6-2.6 2.6-2.6-2.6zM144.6 348.4l2.6 2.6-2.6 2.6-2.6-2.6zM145.2 335.9l2.6 2.6-2.6 2.6-2.6-2.6zM145.8 338.3l2.6 2.6-2.6 2.6-2.6-2.6zM146.4 353.6l2.6 2.6-2.6 2.6-2.6-2.6zM147 360.9l2.6 2.6-2.6 2.6-2.6-2.6zM147.6 348.4l2.6 2.6-2.6 2.6-2.6-2.6zM148.2 348.4l2.6 2.6-2.6 2.6-2.6-2.6zM148.8 344.4l2.6 2.6-2.6 2.6-2.6-2.6zM149.4 344.4l2.6 2.6-2.6 2.6-2.6-2.6zM150 338.3l2.6 2.6-2.6 2.6-2.6-2.6zM150.6 344.4l2.6 2.6-2.6 2.6-2.6-2.6zM151.2 344.4l2.6 2.6-2.6 2.6-2.6-2.6zM151.8 338.3l2.6 2.6-2.6 2.6-2.6-2.6zM152.4 341.1l2.6 2.6-2.6 2.6-2.6-2.6zM153 338.3l2.6 2.6-2.6 2.6-2.6-2.6zM153.6 353.6l2.6 2.6-2.6 2.6-2.6-2.6zM154.2 338.3l2.6 2.6-2.6 2.6-2.6-2.6zM154.8 344.4l2.6 2.6-2.6 2.6-2.6-2.6zM155.4 341.1l2.6 2.6-2.6 2.6-2.6-2.6zM156 353.6l2.6 2.6-2.6 2.6-2.6-2.6zM156.6 341.1l2.6 2.6-2.6 2.6-2.6-2.6zM157.2 353.6l2.6 2.6-2.6 2.6-2.6-2.6zM157.8 335.9l2.6 2.6-2.6 2.6-2.6-2.6zM158.4 360.9l2.6 2.6-2.6 2.6-2.6-2.6zM159 348.4l2.6 2.6-2.6 2.6-2.6-2.6zM159.6 344.4l2.6 2.6-2.6 2.6-2.6-2.6zM160.2 348.4l2.6 2.6-2.6 2.6-2.6-2.6zM160.8 373.4l2.6 2.6-2.6 2.6-2.6-2.6zM161.4 373.4l2.6 2.6-2.6 2.6-2.6-2.6zM162 348.4l2.6 2.6-2.6 2.6-2.6-2.6zM162.6 353.6l2.6 2.6-2.6 2.6-2.6-2.6zM163.2 353.6l2.6 2.6-2.6 2.6-2.6-2.6zM163.8 341.1l2.6 2.6-2.6 2.6-2.6-2.6zM164.4 348.4l2.6 2.6-2.6 2.6-2.6-2.6zM165 348.4l2.6 2.6-2.6 2.6-2.6-2.6zM165.6 360.9l2.6 2.6-2.6 2.6-2.6-2.6zM166.2 373.4l2.6 2.6-2.6 2.6-2.6-2.6zM166.8 353.6l2.6 2.6-2.6 2.6-2.6-2.6zM167.4 373.4l2.6 2.6-2.6 2.6-2.6-2.6zM168 353.6l2.6 2.6-2.6 2.6-2.6-2.6zM168.6 348.4l2.6 2.6-2.6 2.6-2.6-2.6zM169.2 373.4l2.6 2.6-2.6 2.6-2.6-2.6zM169.8 373.4l2.6 2.6-2.6 2.6-2.6-2.6zM170.4 360.9l2.6 2.6-2.6 2.6-2.6-2.6zM171 360.9l2.6 2.6-2.6 2.6-2.6-2.6zM171.6 360.9l2.6 2.6-2.6 2.6-2.6-2.6zM172.2 353.6l2.6 2.6-2.6 2.6-2.6-2.6zM172.8 348.4l2.6 2.6-2.6 2.6-2.6-2.6zM173.4 360.9l2.6 2.6-2.6 2.6-2.6-2.6zM174 353.6l2.6 2.6-2.6 2.6-2.6-2.6zM174.6 341.1l2.6 2.6-2.6 2.6-2.6-2.6zM175.2 373.4l2.6 2.6-2.6 2.6-2.6-2.6zM175.8 373.4l2.6 2.6-2.6 2.6-2.6-2.6zM176.4 348.4l2.6 2.6-2.6 2.6-2.6-2.6zM177 360.9l2.6 2.6-2.6 2.6-2.6-2.6zM177.6 360.9l2.6 2.6-2.6 2.6-2.6-2.6zM178.2 353.6l2.6 2.6-2.6 2.6-2.6-2.6zM178.8 360.9l2.6 2.6-2.6 2.6-2.6-2.6zM179.4 373.4l2.6 2.6-2.6 2.6-2.6-2.6zM180 341.1l2.6 2.6-2.6 2.6-2.6-2.6zM180.6 360.9l2.6 2.6-2.6 2.6-2.6-2.6zM181.2 373.4l2.6 2.6-2.6 2.6-2.6-2.6zM181.8 373.4l2.6 2.6-2.6 2.6-2.6-2.6zM182.4 360.9l2.6 2.6-2.6 2.6-2.6-2.6zM183 373.4l2.6 2.6-2.6 2.6-2.6-2.6zM183.6 360.9l2.6 2.6-2.6 2.6-2.6-2.6zM184.2 373.4l2.6 2.6-2.6 2.6-2.6-2.6zM184.8 353.6l2.6 2.6-2.6 2.6-2.6-2.6zM185.4 373.4l2.6 2.6-2.6 2.6-2.6-2.6zM186 353.6l2.6 2.6-2.6 2.6-2.6-2.6zM186.6 360.9l2.6 2.6-2.6 2.6-2.6-2.6zM187.2 360.9l2.6 2.6-2.6 2.6-2.6-2.6zM187.8 360.9l2.6 2.6-2.6 2.6-2.6-2.6zM188.4 373.4l2.6 2.6-2.6 2.6-2.6-2.6zM189 360.9l2.6 2.6-2.6 2.6-2.6-2.6zM189.6 373.4l2.6 2.6-2.6 2.6-2.6-2.6zM190.2 373.4l2.6 2.6-2.6 2.6-2.6-2.6zM190.8 373.4l2.6 2.6-2.6 2.6-2.6-2.6zM191.4 373.4l2.6 2.6-2.6 2.6-2.6-2.6zM192 373.4l2.6 2.6-2.6 2.6-2.6-2.6zM192.6 348.4l2.6 2.6-2.6 2.6-2.6-2.6zM193.2 373.4l2.6 2.6-2.6 2.6-2.6-2.6zM193.8 373.4l2.6 2.6-2.6 2.6-2.6-2.6zM194.4 373.4l2.6 2.6-2.6 2.6-2.6-2.6zM195 348.4l2.6 2.6-2.6 2.6-2.6-2.6zM195.6 373.4l2.6 2.6-2.6 2.6-2.6-2.6zM196.2 373.4l2.6 2.6-2.6 2.6-2.6-2.6zM196.8 373.4l2.6 2.6-2.6 2.6-2.6-2.6zM197.4 373.4l2.6 2.6-2.6 2.6-2.6-2.6zM198 373.4l2.6 2.6-2.6 2.6-2.6-2.6zM198.6 360.9l2.6 2.6-2.6 2.6-2.6-2.6zM199.2 353.6l2.6 2.6-2.6 2.6-2.6-2.6zM199.8 373.4l2.6 2.6-2.6 2.6-2.6-2.6zM200.4 373.4l2.6 2.6-2.6 2.6-2.6-2.6zM201 373.4l2.6 2.6-2.6 2.6-2.6-2.6zM201.6 348.4l2.6 2.6-2.6 2.6-2.6-2.6zM202.2 360.9l2.6 2.6-2.6 2.6-2.6-2.6zM202.8 373.4l2.6 2.6-2.6 2.6-2.6-2.6zM203.4 373.4l2.6 2.6-2.6 2.6-2.6-2.6zM204 360.9l2.6 2.6-2.6 2.6-2.6-2.6zM204.6 373.4l2.6 2.6-2.6 2.6-2.6-2.6zM205.2 353.6l2.6 2.6-2.6 2.6-2.6-2.6zM205.8 360.9l2.6 2.6-2.6 2.6-2.6-2.6zM206.4 373.4l2.6 2.6-2.6 2.6-2.6-2.6zM207 360.9l2.6 2.6-2.6 2.6-2.6-2.6zM207.6 360.9l2.6 2.6-2.6 2.6-2.6-2.6zM208.2 373.4l2.6 2.6-2.6 2.6-2.6-2.6zM208.8 360.9l2.6 2.6-2.6 2.6-2.6-2.6zM209.4 373.4l2.6 2.6-2.6 2.6-2.6-2.6zM210 373.4l2.6 2.6-2.6 2.6-2.6-2.6zM210.6 348.4l2.6 2.6-2.6 2.6-2.6-2.6zM211.2 348.4l2.6 2.6-2.6 2.6-2.6-2.6zM211.8 373.4l2.6 2.6-2.6 2.6-2.6-2.6zM212.4 373.4l2.6 2.6-2.6 2.6-2.6-2.6zM213 360.9l2.6 2.6-2.6 2.6-2.6-2.6zM213.6 373.4l2.6 2.6-2.6 2.6-2.6-2.6zM214.2 360.9l2.6 2.6-2.6 2.6-2.6-2.6zM214.8 353.6l2.6 2.6-2.6 2.6-2.6-2.6zM215.4 373.4l2.6 2.6-2.6 2.6-2.6-2.6zM216 353.6l2.6 2.6-2.6 2.6-2.6-2.6zM216.6 360.9l2.6 2.6-2.6 2.6-2.6-2.6zM217.2 348.4l2.6 2.6-2.6 2.6-2.6-2.6zM217.8 373.4l2.6 2.6-2.6 2.6-2.6-2.6zM218.4 360.9l2.6 2.6-2.6 2.6-2.6-2.6zM219 373.4l2.6 2.6-2.6 2.6-2.6-2.6zM219.6 373.4l2.6 2.6-2.6 2.6-2.6-2.6zM220.2 373.4l2.6 2.6-2.6 2.6-2.6-2.6zM220.8 348.4l2.6 2.6-2.6 2.6-2.6-2.6zM221.4 373.4l2.6 2.6-2.6 2.6-2.6-2.6zM222 373.4l2.6 2.6-2.6 2.6-2.6-2.6zM222.6 353.6l2.6 2.6-2.6 2.6-2.6-2.6zM223.2 353.6l2.6 2.6-2.6 2.6-2.6-2.6zM223.8 373.4l2.6 2.6-2.6 2.6-2.6-2.6zM224.4 373.4l2.6 2.6-2.6 2.6-2.6-2.6zM225 373.4l2.6 2.6-2.6 2.6-2.6-2.6zM225.6 373.4l2.6 2.6-2.6 2.6-2.6-2.6zM226.2 373.4l2.6 2.6-2.6 2.6-2.6-2.6zM226.8 348.4l2.6 2.6-2.6 2.6-2.6-2.6zM227.4 373.4l2.6 2.6-2.6 2.6-2.6-2.6zM228 373.4l2.6 2.6-2.6 2.6-2.6-2.6zM228.6 373.4l2.6 2.6-2.6 2.6-2.6-2.6zM229.2 373.4l2.6 2.6-2.6 2.6-2.6-2.6zM229.8 353.6l2.6 2.6-2.6 2.6-2.6-2.6zM230.4 360.9l2.6 2.6-2.6 2.6-2.6-2.6zM231 373.4l2.6 2.6-2.6 2.6-2.6-2.6zM231.6 360.9l2.6 2.6-2.6 2.6-2.6-2.6zM232.2 360.9l2.6 2.6-2.6 2.6-2.6-2.6zM232.8 373.4l2.6 2.6-2.6 2.6-2.6-2.6zM233.4 373.4l2.6 2.6-2.6 2.6-2.6-2.6zM234 373.4l2.6 2.6-2.6 2.6-2.6-2.6zM234.6 373.4l2.6 2.6-2.6 2.6-2.6-2.6zM235.2 360.9l2.6 2.6-2.6 2.6-2.6-2.6zM235.8 373.4l2.6 2.6-2.6 2.6-2.6-2.6zM236.4 373.4l2.6 2.6-2.6 2.6-2.6-2.6zM237 373.4l2.6 2.6-2.6 2.6-2.6-2.6zM237.6 373.4l2.6 2.6-2.6 2.6-2.6-2.6zM238.2 373.4l2.6 2.6-2.6 2.6-2.6-2.6zM238.8 373.4l2.6 2.6-2.6 2.6-2.6-2.6zM239.4 360.9l2.6 2.6-2.6 2.6-2.6-2.6zM240 360.9l2.6 2.6-2.6 2.6-2.6-2.6zM240.6 373.4l2.6 2.6-2.6 2.6-2.6-2.6zM241.2 373.4l2.6 2.6-2.6 2.6-2.6-2.6zM241.8 360.9l2.6 2.6-2.6 2.6-2.6-2.6zM242.4 360.9l2.6 2.6-2.6 2.6-2.6-2.6zM243 373.4l2.6 2.6-2.6 2.6-2.6-2.6zM243.6 373.4l2.6 2.6-2.6 2.6-2.6-2.6zM244.2 373.4l2.6 2.6-2.6 2.6-2.6-2.6zM244.8 373.4l2.6 2.6-2.6 2.6-2.6-2.6zM245.4 360.9l2.6 2.6-2.6 2.6-2.6-2.6zM246 373.4l2.6 2.6-2.6 2.6-2.6-2.6zM246.6 373.4l2.6 2.6-2.6 2.6-2.6-2.6zM247.2 373.4l2.6 2.6-2.6 2.6-2.6-2.6zM247.8 360.9l2.6 2.6-2.6 2.6-2.6-2.6zM248.4 373.4l2.6 2.6-2.6 2.6-2.6-2.6zM249 373.4l2.6 2.6-2.6 2.6-2.6-2.6zM249.6 373.4l2.6 2.6-2.6 2.6-2.6-2.6zM250.2 373.4l2.6 2.6-2.6 2.6-2.6-2.6zM250.8 373.4l2.6 2.6-2.6 2.6-2.6-2.6zM251.4 373.4l2.6 2.6-2.6 2.6-2.6-2.6zM76.3 366.1l2.6 2.6-2.6 2.6-2.6-2.6zM76.2 363.9l2.6 2.6-2.6 2.6-2.6-2.6zM76.5 359.5l2.6 2.6-2.6 2.6-2.6-2.6zM76.3 358.4l2.6 2.6-2.6 2.6-2.6-2.6zM76.9 357.3l2.6 2.6-2.6 2.6-2.6-2.6zM76.1 356.2l2.6 2.6-2.6 2.6-2.6-2.6zM76.7 347.4l2.6 2.6-2.6 2.6-2.6-2.6zM76.4 344.1l2.6 2.6-2.6 2.6-2.6-2.6zM76.8 343l2.6 2.6-2.6 2.6-2.6-2.6zM76.5 341.9l2.6 2.6-2.6 2.6-2.6-2.6zM76.2 339.7l2.6 2.6-2.6 2.6-2.6-2.6zM76.7 338.6l2.6 2.6-2.6 2.6-2.6-2.6zM77.3 334.2l2.6 2.6-2.6 2.6-2.6-2.6zM77.1 329.8l2.6 2.6-2.6 2.6-2.6-2.6zM77.6 326.5l2.6 2.6-2.6 2.6-2.6-2.6zM76.7 324.3l2.6 2.6-2.6 2.6-2.6-2.6zM77.4 315.5l2.6 2.6-2.6 2.6-2.6-2.6zM77.6 314.4l2.6 2.6-2.6 2.6-2.6-2.6zM78.9 302.3l2.6 2.6-2.6 2.6-2.6-2.6zM76.9 301.2l2.6 2.6-2.6 2.6-2.6-2.6zM77.2 300.1l2.6 2.6-2.6 2.6-2.6-2.6zM77.5 299l2.6 2.6-2.6 2.6-2.6-2.6zM76.9 297.9l2.6 2.6-2.6 2.6-2.6-2.6zM76.9 296.8l2.6 2.6-2.6 2.6-2.6-2.6zM78.4 295.7l2.6 2.6-2.6 2.6-2.6-2.6zM80.9 294.6l2.6 2.6-2.6 2.6-2.6-2.6zM79.2 293.5l2.6 2.6-2.6 2.6-2.6-2.6zM79.3 292.4l2.6 2.6-2.6 2.6-2.6-2.6zM76.9 291.3l2.6 2.6-2.6 2.6-2.6-2.6zM78.6 290.2l2.6 2.6-2.6 2.6-2.6-2.6zM77.4 289.1l2.6 2.6-2.6 2.6-2.6-2.6zM79.6 288l2.6 2.6-2.6 2.6-2.6-2.6zM78.6 286.9l2.6 2.6-2.6 2.6-2.6-2.6zM79 285.8l2.6 2.6-2.6 2.6-2.6-2.6zM79 284.7l2.6 2.6-2.6 2.6-2.6-2.6zM78.5 283.6l2.6 2.6-2.6 2.6-2.6-2.6zM77.6 282.5l2.6 2.6-2.6 2.6-2.6-2.6zM80 281.4l2.6 2.6-2.6 2.6-2.6-2.6zM77.9 280.3l2.6 2.6-2.6 2.6-2.6-2.6zM78.3 279.2l2.6 2.6-2.6 2.6-2.6-2.6zM79.3 278.1l2.6 2.6-2.6 2.6-2.6-2.6zM79 277l2.6 2.6-2.6 2.6-2.6-2.6zM80.2 275.9l2.6 2.6-2.6 2.6-2.6-2.6zM81.1 274.8l2.6 2.6-2.6 2.6-2.6-2.6zM80.4 273.7l2.6 2.6-2.6 2.6-2.6-2.6zM80.4 272.6l2.6 2.6-2.6 2.6-2.6-2.6zM80.4 271.5l2.6 2.6-2.6 2.6-2.6-2.6zM81.4 270.4l2.6 2.6-2.6 2.6-2.6-2.6zM78.5 269.3l2.6 2.6-2.6 2.6-2.6-2.6zM81.1 268.2l2.6 2.6-2.6 2.6-2.6-2.6zM79.7 267.1l2.6 2.6-2.6 2.6-2.6-2.6zM79.5 266l2.6 2.6-2.6 2.6-2.6-2.6zM81 264.9l2.6 2.6-2.6 2.6-2.6-2.6zM80.7 263.8l2.6 2.6-2.6 2.6-2.6-2.6zM81.8 262.7l2.6 2.6-2.6 2.6-2.6-2.6zM82.6 261.6l2.6 2.6-2.6 2.6-2.6-2.6zM79 260.5l2.6 2.6-2.6 2.6-2.6-2.6zM81.6 259.4l2.6 2.6-2.6 2.6-2.6-2.6zM84 258.3l2.6 2.6-2.6 2.6-2.6-2.6zM83 257.2l2.6 2.6-2.6 2.6-2.6-2.6zM83.8 256.1l2.6 2.6-2.6 2.6-2.6-2.6zM82.5 255l2.6 2.6-2.6 2.6-2.6-2.6zM81 253.9l2.6 2.6-2.6 2.6-2.6-2.6zM81.5 252.8l2.6 2.6-2.6 2.6-2.6-2.6zM83.7 251.7l2.6 2.6-2.6 2.6-2.6-2.6zM84.2 250.6l2.6 2.6-2.6 2.6-2.6-2.6zM82.5 249.5l2.6 2.6-2.6 2.6-2.6-2.6zM83.2 248.4l2.6 2.6-2.6 2.6-2.6-2.6zM83.9 247.3l2.6 2.6-2.6 2.6-2.6-2.6zM81.9 246.2l2.6 2.6-2.6 2.6-2.6-2.6zM83.6 245.1l2.6 2.6-2.6 2.6-2.6-2.6zM85.9 244l2.6 2.6-2.6 2.6-2.6-2.6zM86.8 242.9l2.6 2.6-2.6 2.6-2.6-2.6zM84.6 241.8l2.6 2.6-2.6 2.6-2.6-2.6zM87.1 240.7l2.6 2.6-2.6 2.6-2.6-2.6zM84.8 239.6l2.6 2.6-2.6 2.6-2.6-2.6zM84.9 238.5l2.6 2.6-2.6 2.6-2.6-2.6zM83.6 237.4l2.6 2.6-2.6 2.6-2.6-2.6zM87.5 236.3l2.6 2.6-2.6 2.6-2.6-2.6zM86.4 235.2l2.6 2.6-2.6 2.6-2.6-2.6zM89.7 234.1l2.6 2.6-2.6 2.6-2.6-2.6zM87.8 233l2.6 2.6-2.6 2.6-2.6-2.6zM88 231.9l2.6 2.6-2.6 2.6-2.6-2.6zM86.2 230.8l2.6 2.6-2.6 2.6-2.6-2.6zM90.1 229.7l2.6 2.6-2.6 2.6-2.6-2.6zM63.8 360.1l2.6 2.6-2.6 2.6-2.6-2.6zM74.8 360.1l2.6 2.6-2.6 2.6-2.6-2.6zM75.5 344l2.6 2.6-2.6 2.6-2.6-2.6zM75.5 337.4l2.6 2.6-2.6 2.6-2.6-2.6z" fill="#f4fbfa" stroke="#1e8a88" stroke-width="1.1"/>
<path d="M40 374.6 L55 374.4 L64.6 373.6 L69.6 371.5 L75.5 366.4 L78.4 359 L79.2 340 L80 308 L81.3 282.4 L82.7 264.3 L85.4 246 L89 233.4 L93.6 246 L100.9 264.3 L109 282.4 L119 306 L130 324 L145 343.6 L160 354 L175 362 L194.2 368.7 L198 366 L202 364.4 L207 366.5 L223 371.6 L237 372.8 L252 373.4" fill="none" stroke="#e04a1e" stroke-width="2.3" stroke-linejoin="round"/>
</g>
<path d="M42 253.5h8M251 253.5h-6M42 294.5h8M251 294.5h-6M42 335.5h8M251 335.5h-6M42 376h8M251 376h-6M42 241h3M251 241h-3M42 233.7h3M251 233.7h-3M42 228.5h3M251 228.5h-3M42 282h3M251 282h-3M42 274.7h3M251 274.7h-3M42 269.5h3M251 269.5h-3M42 265.5h3M251 265.5h-3M42 262.2h3M251 262.2h-3M42 259.4h3M251 259.4h-3M42 257h3M251 257h-3M42 254.9h3M251 254.9h-3M42 323h3M251 323h-3M42 315.7h3M251 315.7h-3M42 310.5h3M251 310.5h-3M42 306.5h3M251 306.5h-3M42 303.2h3M251 303.2h-3M42 300.4h3M251 300.4h-3M42 298h3M251 298h-3M42 295.9h3M251 295.9h-3M42 363.5h3M251 363.5h-3M42 356.2h3M251 356.2h-3M42 351h3M251 351h-3M42 347h3M251 347h-3M42 343.7h3M251 343.7h-3M42 340.9h3M251 340.9h-3M42 338.5h3M251 338.5h-3M42 336.4h3M251 336.4h-3M42 391v-2M42 224.5v2M48 391v-2M48 224.5v2M54 391v-2M54 224.5v2M59.9 391v-2M59.9 224.5v2M65.9 391v-2M65.9 224.5v2M71.9 391v-4M71.9 224.5v4M77.9 391v-2M77.9 224.5v2M83.9 391v-2M83.9 224.5v2M89.8 391v-2M89.8 224.5v2M95.8 391v-2M95.8 224.5v2M101.8 391v-2M101.8 224.5v2M107.8 391v-2M107.8 224.5v2M113.8 391v-2M113.8 224.5v2M119.7 391v-2M119.7 224.5v2M125.7 391v-2M125.7 224.5v2M131.7 391v-4M131.7 224.5v4M137.7 391v-2M137.7 224.5v2M143.7 391v-2M143.7 224.5v2M149.6 391v-2M149.6 224.5v2M155.6 391v-2M155.6 224.5v2M161.6 391v-2M161.6 224.5v2M167.6 391v-2M167.6 224.5v2M173.6 391v-2M173.6 224.5v2M179.5 391v-2M179.5 224.5v2M185.5 391v-2M185.5 224.5v2M191.5 391v-4M191.5 224.5v4M197.5 391v-2M197.5 224.5v2M203.5 391v-2M203.5 224.5v2M209.4 391v-2M209.4 224.5v2M215.4 391v-2M215.4 224.5v2M221.4 391v-2M221.4 224.5v2M227.4 391v-2M227.4 224.5v2M233.4 391v-2M233.4 224.5v2M239.3 391v-2M239.3 224.5v2M245.3 391v-2M245.3 224.5v2M251.3 391v-4M251.3 224.5v4" stroke="#555" stroke-width="1.2" fill="none"/>
<rect x="42" y="224.5" width="209" height="166.5" fill="none" stroke="#111" stroke-width="2"/>
<text x="50.4" y="247.7" font-family="Liberation Sans" font-weight="bold" font-style="italic" font-size="19" fill="#e0128a" stroke="#e0128a" stroke-width="0.6" textLength="11.4" lengthAdjust="spacingAndGlyphs">d</text>
<text x="62.6" y="248" font-family="Liberation Sans" font-weight="bold" font-size="19" fill="#e0128a" stroke="#e0128a" stroke-width="0.5" textLength="6.3" lengthAdjust="spacingAndGlyphs">)</text>
<path d="M177.2 240.5l2.6 2.6-2.6 2.6-2.6-2.6z" fill="#fff" stroke="#2a8a8a" stroke-width="1.2"/>
<text x="195.5" y="247.4" font-family="Liberation Sans" font-size="15.5" fill="#222" textLength="34.8" lengthAdjust="spacingAndGlyphs">Data</text>
<line x1="162.5" y1="263.4" x2="191.7" y2="263.4" stroke="#e04a1e" stroke-width="2.2"/>
<text x="194.5" y="267.5" font-family="Liberation Sans" font-size="15.5" fill="#222" textLength="19" lengthAdjust="spacingAndGlyphs">Fit</text>
<text x="135" y="312.8" font-family="Liberation Sans" font-size="16.5" fill="#222" textLength="111" lengthAdjust="spacingAndGlyphs">2.86 eV ~100 ps</text>
<text x="105" y="359.5" font-family="Liberation Sans" font-size="17" fill="#7a6e62" textLength="22.2" lengthAdjust="spacingAndGlyphs">IRF</text>
<text x="71.5" y="408.6" font-family="Liberation Sans" font-size="18" fill="#222" text-anchor="middle" textLength="8.5" lengthAdjust="spacingAndGlyphs">2</text>
<text x="131.3" y="408.6" font-family="Liberation Sans" font-size="18" fill="#222" text-anchor="middle" textLength="8.5" lengthAdjust="spacingAndGlyphs">3</text>
<text x="191.1" y="408.6" font-family="Liberation Sans" font-size="18" fill="#222" text-anchor="middle" textLength="8.5" lengthAdjust="spacingAndGlyphs">4</text>
<text x="250.5" y="408.6" font-family="Liberation Sans" font-size="18" fill="#222" text-anchor="middle" textLength="8.5" lengthAdjust="spacingAndGlyphs">5</text>
<text x="105.2" y="424.5" font-family="Liberation Sans" font-size="16.5" fill="#222" stroke="#222" stroke-width="0.45" textLength="75.5" lengthAdjust="spacingAndGlyphs">Time (ns)</text>
<text transform="translate(27,389) rotate(-90)" x="0" y="0" font-family="Liberation Sans" font-size="16.2" fill="#222" stroke="#222" stroke-width="0.25" textLength="159" lengthAdjust="spacingAndGlyphs">XEOL inten. (arb. u.)</text>
<g clip-path="url(#cb)"><g filter="url(#fb)">
<rect x="200" y="0" width="320" height="240" fill="#080808"/>
<path d="M250 154 L250 154 L265 153 L300 150 L328 150 L352 155 L371 166 L380 176 L385 183 L394 201 L401 215 L420 240 L420 240 L250 240 Z" fill="#1f1f1f" filter="url(#bl5)"/>
<ellipse cx="308" cy="198" rx="58" ry="36" fill="#000" filter="url(#bl12)"/>
<path d="M250 113 L265 111 L300 103 L332 93 L350 84 L363 78 L380 80 L392 88 L398 100 L403.5 121 L411 144 L427 156 L432 168 L445 181 L458 196.5 L466 204 L480 214 L490 240 L420 240 L401 215 L394 201 L385 183 L380 176 L371 166 L352 155 L328 150 L300 150 L265 153 L250 154 Z" fill="#333333" filter="url(#bl5)"/>
<path d="M250 113 L265 111 L300 103 L332 93 L350 84 L363 78 L380 80 L392 88 L398 100 L403.5 121 L411 144 L427 156 L432 168 L445 181 L458 196.5 L466 204 L480 214 L490 240 L420 240 L401 215 L394 201 L385 183 L380 176 L371 166 L352 155 L328 150 L300 150 L265 153 L250 154 Z" fill="#575757" filter="url(#bl2)"/>
<path d="M250 119 L265 117 L300 109 L332 99 L350 90 L363 84 L380 86 L389 93 L393 103 L398 121 L405 143 L418 156 L426 168 L434 180 L412 178 L395 166 L378 152 L355 141 L330 137 L300 139 L250 141 Z" fill="#7d7d7d" filter="url(#bl5)"/>
<ellipse cx="365" cy="112" rx="26" ry="23" fill="#9e9e9e" filter="url(#bl5)"/>
<path d="M344.3 108.1 L347.9 97.3 L356.9 91.9 L367.7 90.1 L378.5 93.7 L385.7 104.5 L383.9 117.1 L376.7 125.2 L364.1 127 L351.5 122.5 L345.2 115.3 Z" fill="#f2f2f2" filter="url(#bl3)"/>
</g></g>
<circle cx="366.3" cy="108.7" r="7.4" fill="none" stroke="#2e3898" stroke-width="3"/>
<path d="M423 175.5 L433.5 191 L412.5 191 Z" fill="none" stroke="#e0502a" stroke-width="2.6"/>
<rect x="265" y="16.5" width="202" height="196" fill="none" stroke="#333a55" stroke-width="1"/>
<text x="271" y="38.2" font-family="Liberation Sans" font-weight="bold" font-size="19" fill="#e0128a" stroke="#e0128a" stroke-width="0.5" textLength="17" lengthAdjust="spacingAndGlyphs">b)</text>
<text x="296.2" y="38.2" font-family="Liberation Sans" font-size="16" fill="#fff" textLength="86" lengthAdjust="spacingAndGlyphs">Experiment</text>
<text x="277.5" y="201.8" font-family="Liberation Sans" font-size="17" fill="#fff" textLength="57" lengthAdjust="spacingAndGlyphs">2.86 eV</text>
<g clip-path="url(#cc)"><g filter="url(#fc)">
<rect x="200" y="200" width="320" height="241" fill="#000"/>
<path d="M180 359 L368 304.6 L540 450" fill="none" stroke="#dedede" stroke-width="34" stroke-linejoin="miter" filter="url(#bl7)"/>
<ellipse cx="361" cy="309" rx="24" ry="8" transform="rotate(-2 361 309)" fill="#ffffff" filter="url(#bl5)" opacity="0.9"/>
</g></g>
<rect x="265" y="225" width="203" height="200" fill="none" stroke="#222" stroke-width="1.2"/>
<text x="272" y="247.8" font-family="Liberation Sans" font-weight="bold" font-size="19" fill="#e0128a" stroke="#e0128a" stroke-width="0.5" textLength="16" lengthAdjust="spacingAndGlyphs">c)</text>
<text x="296.2" y="247.8" font-family="Liberation Sans" font-size="16" fill="#fff" textLength="52.4" lengthAdjust="spacingAndGlyphs">Theory</text>
</svg></body></html>
